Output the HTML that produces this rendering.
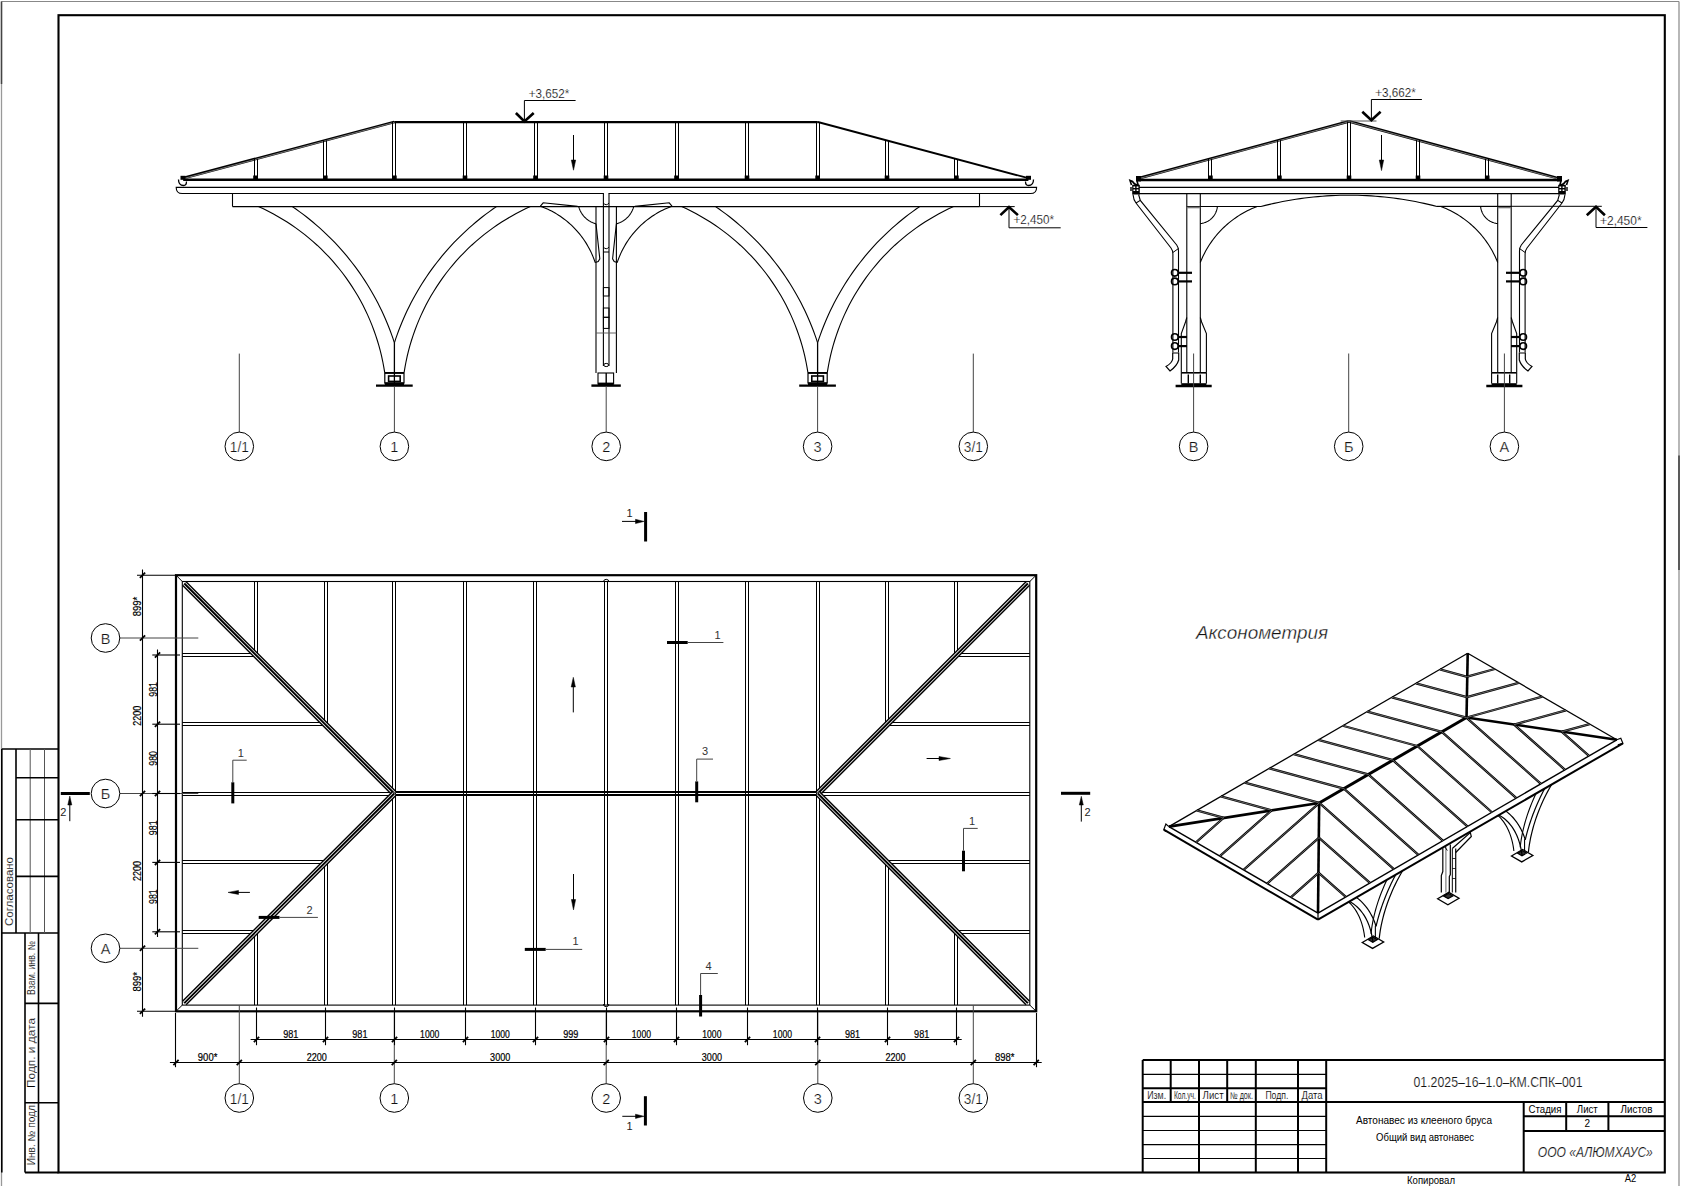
<!DOCTYPE html>
<html><head><meta charset="utf-8"><style>
html,body{margin:0;padding:0;background:#fff;width:1681px;height:1186px;overflow:hidden}
svg{display:block;font-family:"Liberation Sans",sans-serif}
</style></head><body>
<svg width="1681" height="1186" viewBox="0 0 1681 1186">
<line x1="1.5" y1="1.5" x2="1679" y2="1.5" stroke="#888" stroke-width="1.1"/>
<line x1="1.5" y1="1.5" x2="1.5" y2="1186" stroke="#999" stroke-width="1.3"/>
<line x1="1.5" y1="1.5" x2="1.5" y2="84" stroke="#444" stroke-width="1.5"/>
<line x1="1679" y1="1.5" x2="1679" y2="1186" stroke="#888" stroke-width="1.2"/>
<line x1="1679" y1="455.5" x2="1679" y2="570" stroke="#333" stroke-width="1.4"/>
<rect x="58.5" y="15.2" width="1606.3" height="1157.3" stroke="#000" stroke-width="2.1" fill="none"/>
<line x1="1.8" y1="749" x2="58.5" y2="749" stroke="#000" stroke-width="1.6"/>
<line x1="1.8" y1="933" x2="58.5" y2="933" stroke="#000" stroke-width="1.6"/>
<line x1="1.8" y1="749" x2="1.8" y2="1172.5" stroke="#000" stroke-width="1.6"/>
<line x1="16" y1="749" x2="16" y2="933" stroke="#000" stroke-width="1.6"/>
<line x1="30.2" y1="749" x2="30.2" y2="933" stroke="#555" stroke-width="1"/>
<line x1="44.5" y1="749" x2="44.5" y2="933" stroke="#555" stroke-width="1"/>
<line x1="16" y1="777.7" x2="58.5" y2="777.7" stroke="#000" stroke-width="1.6"/>
<line x1="16" y1="819.8" x2="58.5" y2="819.8" stroke="#000" stroke-width="1.6"/>
<line x1="16" y1="876.4" x2="58.5" y2="876.4" stroke="#000" stroke-width="1.6"/>
<line x1="25" y1="933" x2="25" y2="1172.5" stroke="#000" stroke-width="1.6"/>
<line x1="38.5" y1="933" x2="38.5" y2="1172.5" stroke="#000" stroke-width="1.6"/>
<line x1="25" y1="1003.4" x2="58.5" y2="1003.4" stroke="#000" stroke-width="1.6"/>
<line x1="25" y1="1102.7" x2="58.5" y2="1102.7" stroke="#000" stroke-width="1.6"/>
<line x1="25" y1="1172.5" x2="58.5" y2="1172.5" stroke="#000" stroke-width="2"/>
<text x="8.6" y="891.5" dominant-baseline="central" font-size="10.5" text-anchor="middle" fill="#000" textLength="69" lengthAdjust="spacingAndGlyphs" stroke="#fff" stroke-width="0.15" transform="rotate(-90 8.6 891.5)">Согласовано</text>
<text x="31.6" y="968" dominant-baseline="central" font-size="10" text-anchor="middle" fill="#000" textLength="54" lengthAdjust="spacingAndGlyphs" stroke="#fff" stroke-width="0.12" transform="rotate(-90 31.6 968)">Взам. инв. №</text>
<text x="31.6" y="1053" dominant-baseline="central" font-size="10" text-anchor="middle" fill="#000" textLength="70" lengthAdjust="spacingAndGlyphs" stroke="#fff" stroke-width="0.15" transform="rotate(-90 31.6 1053)">Подп. и дата</text>
<text x="31.6" y="1133.8" dominant-baseline="central" font-size="10" text-anchor="middle" fill="#000" textLength="63" lengthAdjust="spacingAndGlyphs" stroke="#fff" stroke-width="0.12" transform="rotate(-90 31.6 1133.8)">Инв. № подл.</text>
<line x1="1142.7" y1="1060" x2="1665" y2="1060" stroke="#000" stroke-width="2"/>
<line x1="1142.7" y1="1088.3" x2="1326.2" y2="1088.3" stroke="#000" stroke-width="2"/>
<line x1="1142.7" y1="1102.1" x2="1665" y2="1102.1" stroke="#000" stroke-width="2"/>
<line x1="1142.7" y1="1074.4" x2="1326.2" y2="1074.4" stroke="#000" stroke-width="1.1"/>
<line x1="1142.7" y1="1116.4" x2="1326.2" y2="1116.4" stroke="#000" stroke-width="1.1"/>
<line x1="1142.7" y1="1130.5" x2="1326.2" y2="1130.5" stroke="#000" stroke-width="1.1"/>
<line x1="1142.7" y1="1144.6" x2="1326.2" y2="1144.6" stroke="#000" stroke-width="1.1"/>
<line x1="1142.7" y1="1158.5" x2="1326.2" y2="1158.5" stroke="#000" stroke-width="1.1"/>
<line x1="1142.7" y1="1060" x2="1142.7" y2="1172.5" stroke="#000" stroke-width="2"/>
<line x1="1199" y1="1060" x2="1199" y2="1172.5" stroke="#000" stroke-width="2"/>
<line x1="1255.8" y1="1060" x2="1255.8" y2="1172.5" stroke="#000" stroke-width="2"/>
<line x1="1298" y1="1060" x2="1298" y2="1172.5" stroke="#000" stroke-width="2"/>
<line x1="1326.2" y1="1060" x2="1326.2" y2="1172.5" stroke="#000" stroke-width="2"/>
<line x1="1170.7" y1="1060" x2="1170.7" y2="1102.1" stroke="#000" stroke-width="2"/>
<line x1="1227.2" y1="1060" x2="1227.2" y2="1102.1" stroke="#000" stroke-width="2"/>
<line x1="1523.7" y1="1116.3" x2="1665" y2="1116.3" stroke="#000" stroke-width="2"/>
<line x1="1523.7" y1="1130.9" x2="1665" y2="1130.9" stroke="#000" stroke-width="2"/>
<line x1="1523.7" y1="1102.1" x2="1523.7" y2="1172.5" stroke="#000" stroke-width="2"/>
<line x1="1566.2" y1="1102.1" x2="1566.2" y2="1130.9" stroke="#000" stroke-width="2"/>
<line x1="1608.4" y1="1102.1" x2="1608.4" y2="1130.9" stroke="#000" stroke-width="2"/>
<text x="1156.7" y="1095.3" dominant-baseline="central" font-size="10" text-anchor="middle" fill="#000" textLength="19" lengthAdjust="spacingAndGlyphs" stroke="#fff" stroke-width="0.12">Изм.</text>
<text x="1184.9" y="1095.3" dominant-baseline="central" font-size="10" text-anchor="middle" fill="#000" textLength="22" lengthAdjust="spacingAndGlyphs" stroke="#fff" stroke-width="0.12">Кол.уч.</text>
<text x="1213.1" y="1095.3" dominant-baseline="central" font-size="10" text-anchor="middle" fill="#000" textLength="21" lengthAdjust="spacingAndGlyphs" stroke="#fff" stroke-width="0.12">Лист</text>
<text x="1241.5" y="1095.3" dominant-baseline="central" font-size="10" text-anchor="middle" fill="#000" textLength="23" lengthAdjust="spacingAndGlyphs" stroke="#fff" stroke-width="0.12">№ док.</text>
<text x="1276.9" y="1095.3" dominant-baseline="central" font-size="10" text-anchor="middle" fill="#000" textLength="23" lengthAdjust="spacingAndGlyphs" stroke="#fff" stroke-width="0.12">Подп.</text>
<text x="1312.1" y="1095.3" dominant-baseline="central" font-size="10" text-anchor="middle" fill="#000" textLength="21" lengthAdjust="spacingAndGlyphs" stroke="#fff" stroke-width="0.12">Дата</text>
<text x="1498" y="1081.5" dominant-baseline="central" font-size="15" text-anchor="middle" fill="#111" textLength="169" lengthAdjust="spacingAndGlyphs" stroke="#fff" stroke-width="0.18">01.2025–16–1.0–КМ.СПК–001</text>
<text x="1424" y="1119.8" dominant-baseline="central" font-size="10.5" text-anchor="middle" fill="#000" textLength="136" lengthAdjust="spacingAndGlyphs">Автонавес из клееного бруса</text>
<text x="1425" y="1137.2" dominant-baseline="central" font-size="10.5" text-anchor="middle" fill="#000" textLength="98" lengthAdjust="spacingAndGlyphs">Общий вид автонавес</text>
<text x="1545" y="1109.2" dominant-baseline="central" font-size="10" text-anchor="middle" fill="#000" textLength="33" lengthAdjust="spacingAndGlyphs">Стадия</text>
<text x="1587.3" y="1109.2" dominant-baseline="central" font-size="10" text-anchor="middle" fill="#000" textLength="21" lengthAdjust="spacingAndGlyphs">Лист</text>
<text x="1636.5" y="1109.2" dominant-baseline="central" font-size="10" text-anchor="middle" fill="#000" textLength="32" lengthAdjust="spacingAndGlyphs">Листов</text>
<text x="1587.3" y="1123.5" dominant-baseline="central" font-size="10" text-anchor="middle" fill="#000">2</text>
<text x="1595.3" y="1151.5" dominant-baseline="central" font-size="15" text-anchor="middle" fill="#111" textLength="115" lengthAdjust="spacingAndGlyphs" font-style="italic" stroke="#fff" stroke-width="0.18">ООО «АЛЮМХАУС»</text>
<text x="1431" y="1180" dominant-baseline="central" font-size="10.5" text-anchor="middle" fill="#000" textLength="48" lengthAdjust="spacingAndGlyphs">Копировал</text>
<text x="1630.5" y="1178.5" dominant-baseline="central" font-size="10" text-anchor="middle" fill="#000" textLength="11.5" lengthAdjust="spacingAndGlyphs">А2</text>
<line x1="183.2" y1="179.8" x2="1028.4" y2="179.8" stroke="#000" stroke-width="2.4"/>
<line x1="394.2" y1="122.2" x2="817.8" y2="122.2" stroke="#000" stroke-width="2.2"/>
<line x1="183.2" y1="178.2" x2="394.2" y2="122" stroke="#000" stroke-width="2.8"/>
<line x1="183.6" y1="178.6" x2="394.2" y2="122.4" stroke="#aaa" stroke-width="0.7"/>
<line x1="817.8" y1="122" x2="1028.4" y2="178.2" stroke="#000" stroke-width="1.9"/>
<line x1="254.5" y1="158.94" x2="254.5" y2="180" stroke="#000" stroke-width="1"/>
<line x1="257.5" y1="158.94" x2="257.5" y2="180" stroke="#000" stroke-width="1"/>
<rect x="253.2" y="175.5" width="4.6" height="5.5" fill="#000"/>
<line x1="323.5" y1="140.35" x2="323.5" y2="180" stroke="#000" stroke-width="1"/>
<line x1="326.5" y1="140.35" x2="326.5" y2="180" stroke="#000" stroke-width="1"/>
<rect x="323" y="175.5" width="4.6" height="5.5" fill="#000"/>
<line x1="392.5" y1="122" x2="392.5" y2="180" stroke="#000" stroke-width="1"/>
<line x1="395.5" y1="122" x2="395.5" y2="180" stroke="#000" stroke-width="1"/>
<rect x="392.1" y="175.5" width="4.6" height="5.5" fill="#000"/>
<line x1="463.5" y1="122" x2="463.5" y2="180" stroke="#000" stroke-width="1"/>
<line x1="466.5" y1="122" x2="466.5" y2="180" stroke="#000" stroke-width="1"/>
<rect x="462.7" y="175.5" width="4.6" height="5.5" fill="#000"/>
<line x1="534.5" y1="122" x2="534.5" y2="180" stroke="#000" stroke-width="1"/>
<line x1="537.5" y1="122" x2="537.5" y2="180" stroke="#000" stroke-width="1"/>
<rect x="533.2" y="175.5" width="4.6" height="5.5" fill="#000"/>
<line x1="604.5" y1="122" x2="604.5" y2="180" stroke="#000" stroke-width="1"/>
<line x1="607.5" y1="122" x2="607.5" y2="180" stroke="#000" stroke-width="1"/>
<rect x="603.7" y="175.5" width="4.6" height="5.5" fill="#000"/>
<line x1="675.5" y1="122" x2="675.5" y2="180" stroke="#000" stroke-width="1"/>
<line x1="678.5" y1="122" x2="678.5" y2="180" stroke="#000" stroke-width="1"/>
<rect x="674.2" y="175.5" width="4.6" height="5.5" fill="#000"/>
<line x1="745.5" y1="122" x2="745.5" y2="180" stroke="#000" stroke-width="1"/>
<line x1="748.5" y1="122" x2="748.5" y2="180" stroke="#000" stroke-width="1"/>
<rect x="744.7" y="175.5" width="4.6" height="5.5" fill="#000"/>
<line x1="816.5" y1="122" x2="816.5" y2="180" stroke="#000" stroke-width="1"/>
<line x1="819.5" y1="122" x2="819.5" y2="180" stroke="#000" stroke-width="1"/>
<rect x="815.3" y="175.5" width="4.6" height="5.5" fill="#000"/>
<line x1="885.5" y1="140.47" x2="885.5" y2="180" stroke="#000" stroke-width="1"/>
<line x1="888.5" y1="140.47" x2="888.5" y2="180" stroke="#000" stroke-width="1"/>
<rect x="884.7" y="175.5" width="4.6" height="5.5" fill="#000"/>
<line x1="954.5" y1="158.99" x2="954.5" y2="180" stroke="#000" stroke-width="1"/>
<line x1="957.5" y1="158.99" x2="957.5" y2="180" stroke="#000" stroke-width="1"/>
<rect x="954.1" y="175.5" width="4.6" height="5.5" fill="#000"/>
<path d="M176.2,187.4 L1036.6,187.4 Q1036.6,193.5 1030.6,193.5 L182.2,193.5 Q176.2,193.5 176.2,187.4 Z" stroke="#000" stroke-width="1.1" fill="none"/>
<path d="M178.5,179.5 Q178.5,185.5 183.5,185.5 Q186.5,185.5 186.5,181.5" stroke="#000" stroke-width="1.3" fill="none"/>
<path d="M1033.5,179.5 Q1033.5,185.5 1028.5,185.5 Q1025.5,185.5 1025.5,181.5" stroke="#000" stroke-width="1.3" fill="none"/>
<rect x="180.5" y="175.8" width="5" height="4" fill="#000"/>
<rect x="1026" y="175.8" width="5" height="4" fill="#000"/>
<rect x="603.9" y="192.6" width="4.6" height="1.9" fill="#fff"/>
<line x1="232.5" y1="193.5" x2="232.5" y2="206.6" stroke="#000" stroke-width="1.1"/>
<line x1="979.5" y1="193.5" x2="979.5" y2="206.6" stroke="#000" stroke-width="1.1"/>
<line x1="232.5" y1="206.6" x2="979.5" y2="206.6" stroke="#000" stroke-width="1.2"/>
<path d="M258.45,206.6 L263.38,208.87 L268.25,211.27 L273.06,213.78 L277.81,216.42 L282.49,219.17 L287.1,222.04 L291.63,225.02 L296.09,228.12 L300.47,231.33 L304.77,234.64 L308.98,238.06 L313.11,241.59 L317.15,245.22 L321.09,248.95 L324.94,252.77 L328.7,256.69 L332.35,260.71 L335.91,264.81 L339.36,269 L342.7,273.28 L345.94,277.64 L349.06,282.08 L352.08,286.59 L354.98,291.18 L357.76,295.84 L360.43,300.57 L362.98,305.36 L365.4,310.22 L367.71,315.13 L369.89,320.1 L371.94,325.13 L373.87,330.2 L375.68,335.32 L377.35,340.49 L378.89,345.69 L380.31,350.93 L381.59,356.21 L382.74,361.51 L383.75,366.84 L384.64,372.2" stroke="#000" stroke-width="1.1" fill="none"/>
<path d="M292.31,206.6 L295.88,209.06 L299.4,211.58 L302.89,214.16 L306.32,216.8 L309.72,219.5 L313.07,222.25 L316.38,225.05 L319.63,227.91 L322.84,230.82 L326,233.79 L329.11,236.81 L332.18,239.88 L335.18,242.99 L338.14,246.16 L341.05,249.38 L343.9,252.65 L346.69,255.96 L349.43,259.31 L352.12,262.72 L354.75,266.16 L357.32,269.65 L359.83,273.19 L362.28,276.76 L364.68,280.37 L367.01,284.02 L369.29,287.71 L371.5,291.44 L373.65,295.21 L375.73,299.01 L377.76,302.84 L379.72,306.7 L381.61,310.6 L383.44,314.53 L385.21,318.49 L386.91,322.48 L388.54,326.49 L390.11,330.53 L391.61,334.6 L393.04,338.69 L394.4,342.81" stroke="#000" stroke-width="1.1" fill="none"/>
<path d="M530.35,206.6 L525.42,208.87 L520.55,211.27 L515.74,213.78 L510.99,216.42 L506.31,219.17 L501.7,222.04 L497.17,225.02 L492.71,228.12 L488.33,231.33 L484.03,234.64 L479.82,238.06 L475.69,241.59 L471.65,245.22 L467.71,248.95 L463.86,252.77 L460.1,256.69 L456.45,260.71 L452.89,264.81 L449.44,269 L446.1,273.28 L442.86,277.64 L439.74,282.08 L436.72,286.59 L433.82,291.18 L431.04,295.84 L428.37,300.57 L425.82,305.36 L423.4,310.22 L421.09,315.13 L418.91,320.1 L416.86,325.13 L414.93,330.2 L413.12,335.32 L411.45,340.49 L409.91,345.69 L408.49,350.93 L407.21,356.21 L406.06,361.51 L405.05,366.84 L404.16,372.2" stroke="#000" stroke-width="1.1" fill="none"/>
<path d="M496.49,206.6 L492.92,209.06 L489.4,211.58 L485.91,214.16 L482.48,216.8 L479.08,219.5 L475.73,222.25 L472.42,225.05 L469.17,227.91 L465.96,230.82 L462.8,233.79 L459.69,236.81 L456.62,239.88 L453.62,242.99 L450.66,246.16 L447.75,249.38 L444.9,252.65 L442.11,255.96 L439.37,259.31 L436.68,262.72 L434.05,266.16 L431.48,269.65 L428.97,273.19 L426.52,276.76 L424.12,280.37 L421.79,284.02 L419.51,287.71 L417.3,291.44 L415.15,295.21 L413.07,299.01 L411.04,302.84 L409.08,306.7 L407.19,310.6 L405.36,314.53 L403.59,318.49 L401.89,322.48 L400.26,326.49 L398.69,330.53 L397.19,334.6 L395.76,338.69 L394.4,342.81" stroke="#000" stroke-width="1.1" fill="none"/>
<rect x="384.8" y="372.6" width="19.2" height="10.4" stroke="#000" stroke-width="1.2" fill="none"/>
<line x1="384.8" y1="373" x2="404" y2="373" stroke="#000" stroke-width="1.8"/>
<rect x="388.6" y="376" width="11.6" height="5.4" stroke="#000" stroke-width="1.6" fill="none"/>
<line x1="376" y1="385.6" x2="412.7" y2="385.6" stroke="#000" stroke-width="2.4"/>
<rect x="384.8" y="382.4" width="19.2" height="2.6" fill="#000"/>
<line x1="394.4" y1="342.81" x2="394.4" y2="386" stroke="#000" stroke-width="1.3"/>
<path d="M681.65,206.6 L686.58,208.87 L691.45,211.27 L696.26,213.78 L701.01,216.42 L705.69,219.17 L710.3,222.04 L714.83,225.02 L719.29,228.12 L723.67,231.33 L727.97,234.64 L732.18,238.06 L736.31,241.59 L740.35,245.22 L744.29,248.95 L748.14,252.77 L751.9,256.69 L755.55,260.71 L759.11,264.81 L762.56,269 L765.9,273.28 L769.14,277.64 L772.26,282.08 L775.28,286.59 L778.18,291.18 L780.96,295.84 L783.63,300.57 L786.18,305.36 L788.6,310.22 L790.91,315.13 L793.09,320.1 L795.14,325.13 L797.07,330.2 L798.88,335.32 L800.55,340.49 L802.09,345.69 L803.51,350.93 L804.79,356.21 L805.94,361.51 L806.95,366.84 L807.84,372.2" stroke="#000" stroke-width="1.1" fill="none"/>
<path d="M715.51,206.6 L719.08,209.06 L722.6,211.58 L726.09,214.16 L729.52,216.8 L732.92,219.5 L736.27,222.25 L739.58,225.05 L742.83,227.91 L746.04,230.82 L749.2,233.79 L752.31,236.81 L755.38,239.88 L758.38,242.99 L761.34,246.16 L764.25,249.38 L767.1,252.65 L769.89,255.96 L772.63,259.31 L775.32,262.72 L777.95,266.16 L780.52,269.65 L783.03,273.19 L785.48,276.76 L787.88,280.37 L790.21,284.02 L792.49,287.71 L794.7,291.44 L796.85,295.21 L798.93,299.01 L800.96,302.84 L802.92,306.7 L804.81,310.6 L806.64,314.53 L808.41,318.49 L810.11,322.48 L811.74,326.49 L813.31,330.53 L814.81,334.6 L816.24,338.69 L817.6,342.81" stroke="#000" stroke-width="1.1" fill="none"/>
<path d="M953.55,206.6 L948.62,208.87 L943.75,211.27 L938.94,213.78 L934.19,216.42 L929.51,219.17 L924.9,222.04 L920.37,225.02 L915.91,228.12 L911.53,231.33 L907.23,234.64 L903.02,238.06 L898.89,241.59 L894.85,245.22 L890.91,248.95 L887.06,252.77 L883.3,256.69 L879.65,260.71 L876.09,264.81 L872.64,269 L869.3,273.28 L866.06,277.64 L862.94,282.08 L859.92,286.59 L857.02,291.18 L854.24,295.84 L851.57,300.57 L849.02,305.36 L846.6,310.22 L844.29,315.13 L842.11,320.1 L840.06,325.13 L838.13,330.2 L836.32,335.32 L834.65,340.49 L833.11,345.69 L831.69,350.93 L830.41,356.21 L829.26,361.51 L828.25,366.84 L827.36,372.2" stroke="#000" stroke-width="1.1" fill="none"/>
<path d="M919.69,206.6 L916.12,209.06 L912.6,211.58 L909.11,214.16 L905.68,216.8 L902.28,219.5 L898.93,222.25 L895.62,225.05 L892.37,227.91 L889.16,230.82 L886,233.79 L882.89,236.81 L879.82,239.88 L876.82,242.99 L873.86,246.16 L870.95,249.38 L868.1,252.65 L865.31,255.96 L862.57,259.31 L859.88,262.72 L857.25,266.16 L854.68,269.65 L852.17,273.19 L849.72,276.76 L847.32,280.37 L844.99,284.02 L842.71,287.71 L840.5,291.44 L838.35,295.21 L836.27,299.01 L834.24,302.84 L832.28,306.7 L830.39,310.6 L828.56,314.53 L826.79,318.49 L825.09,322.48 L823.46,326.49 L821.89,330.53 L820.39,334.6 L818.96,338.69 L817.6,342.81" stroke="#000" stroke-width="1.1" fill="none"/>
<rect x="808" y="372.6" width="19.2" height="10.4" stroke="#000" stroke-width="1.2" fill="none"/>
<line x1="808" y1="373" x2="827.2" y2="373" stroke="#000" stroke-width="1.8"/>
<rect x="811.8" y="376" width="11.6" height="5.4" stroke="#000" stroke-width="1.6" fill="none"/>
<line x1="799.2" y1="385.6" x2="835.9" y2="385.6" stroke="#000" stroke-width="2.4"/>
<rect x="808" y="382.4" width="19.2" height="2.6" fill="#000"/>
<line x1="817.6" y1="342.81" x2="817.6" y2="386" stroke="#000" stroke-width="1.3"/>
<line x1="596" y1="206.6" x2="596" y2="373" stroke="#000" stroke-width="1.1"/>
<line x1="616.4" y1="206.6" x2="616.4" y2="373" stroke="#000" stroke-width="1.1"/>
<line x1="603.4" y1="193.5" x2="603.4" y2="366" stroke="#000" stroke-width="1.1"/>
<line x1="609" y1="193.5" x2="609" y2="366" stroke="#000" stroke-width="1.1"/>
<path d="M603.4,203 Q606.2,206.5 609,203" stroke="#000" stroke-width="1" fill="none"/>
<path d="M603.4,247 Q606.2,250.5 609,247" stroke="#000" stroke-width="1" fill="none"/>
<line x1="603.4" y1="252" x2="609" y2="252" stroke="#000" stroke-width="1"/>
<rect x="603.4" y="287.6" width="5.6" height="8.4" stroke="#000" stroke-width="1" fill="none"/>
<rect x="603.4" y="308" width="5.6" height="9.3" stroke="#000" stroke-width="1" fill="none"/>
<rect x="603.4" y="317.3" width="5.6" height="11.1" stroke="#000" stroke-width="1" fill="none"/>
<line x1="596" y1="333" x2="616.4" y2="333" stroke="#555" stroke-width="0.9"/>
<path d="M603.8,365 a2.4,1.6 0 1,0 4.8,0 a2.4,1.6 0 1,0 -4.8,0" stroke="#000" stroke-width="1" fill="none"/>
<rect x="598" y="373" width="15.6" height="11" stroke="#000" stroke-width="1.1" fill="none"/>
<line x1="606.2" y1="373" x2="606.2" y2="385" stroke="#000" stroke-width="1.4"/>
<line x1="591.4" y1="385.6" x2="620.8" y2="385.6" stroke="#000" stroke-width="2.4"/>
<rect x="598" y="382.6" width="15.6" height="2.6" fill="#000"/>
<path d="M540.4,206.2 L543.2,202.8 L577.6,206.4" stroke="#000" stroke-width="1.1" fill="none"/>
<path d="M540.4,206.2 L542.31,206.91 L544.2,207.67 L546.07,208.46 L547.92,209.3 L549.76,210.19 L551.57,211.11 L553.36,212.07 L555.13,213.08 L556.88,214.12 L558.6,215.2 L560.3,216.33 L561.97,217.49 L563.62,218.69 L565.23,219.92 L566.82,221.19 L568.38,222.5 L569.91,223.84 L571.41,225.22 L572.88,226.63 L574.31,228.07 L575.71,229.55 L577.08,231.06 L578.41,232.59 L579.71,234.16 L580.97,235.76 L582.2,237.38 L583.39,239.03 L584.54,240.71 L585.65,242.42 L586.72,244.15 L587.76,245.9 L588.75,247.68 L589.7,249.47 L590.62,251.29 L591.49,253.13 L592.31,254.99 L593.1,256.87 L593.84,258.76 L594.54,260.67 L595.2,262.6" stroke="#000" stroke-width="1.1" fill="none"/>
<path d="M578.7,206.6 L578.88,207.21 L579.07,207.82 L579.28,208.43 L579.5,209.02 L579.74,209.62 L579.99,210.2 L580.26,210.78 L580.55,211.35 L580.85,211.91 L581.16,212.47 L581.49,213.02 L581.83,213.56 L582.19,214.09 L582.56,214.61 L582.95,215.12 L583.34,215.62 L583.75,216.11 L584.17,216.58 L584.61,217.05 L585.06,217.51 L585.51,217.95 L585.98,218.38 L586.47,218.8 L586.96,219.21 L587.46,219.6 L587.97,219.99 L588.49,220.35 L589.03,220.71 L589.57,221.05 L590.12,221.37 L590.67,221.68 L591.24,221.98 L591.81,222.26 L592.39,222.53 L592.98,222.78 L593.57,223.01 L594.17,223.23 L594.78,223.44 L595.39,223.63 L596,223.8" stroke="#000" stroke-width="1.1" fill="none"/>
<path d="M596,223.8 L599.8,258.8 L598.2,261.6 L595.2,262.6" stroke="#000" stroke-width="1.1" fill="none"/>
<path d="M672,206.2 L669.2,202.8 L634.8,206.4" stroke="#000" stroke-width="1.1" fill="none"/>
<path d="M672,206.2 L670.09,206.91 L668.2,207.67 L666.33,208.46 L664.48,209.3 L662.64,210.19 L660.83,211.11 L659.04,212.07 L657.27,213.08 L655.52,214.12 L653.8,215.2 L652.1,216.33 L650.43,217.49 L648.78,218.69 L647.17,219.92 L645.58,221.19 L644.02,222.5 L642.49,223.84 L640.99,225.22 L639.52,226.63 L638.09,228.07 L636.69,229.55 L635.32,231.06 L633.99,232.59 L632.69,234.16 L631.43,235.76 L630.2,237.38 L629.01,239.03 L627.86,240.71 L626.75,242.42 L625.68,244.15 L624.64,245.9 L623.65,247.68 L622.7,249.47 L621.78,251.29 L620.91,253.13 L620.09,254.99 L619.3,256.87 L618.56,258.76 L617.86,260.67 L617.2,262.6" stroke="#000" stroke-width="1.1" fill="none"/>
<path d="M633.7,206.6 L633.52,207.21 L633.33,207.82 L633.12,208.43 L632.9,209.02 L632.66,209.62 L632.41,210.2 L632.14,210.78 L631.85,211.35 L631.55,211.91 L631.24,212.47 L630.91,213.02 L630.57,213.56 L630.21,214.09 L629.84,214.61 L629.45,215.12 L629.06,215.62 L628.65,216.11 L628.23,216.58 L627.79,217.05 L627.34,217.51 L626.89,217.95 L626.42,218.38 L625.93,218.8 L625.44,219.21 L624.94,219.6 L624.43,219.99 L623.91,220.35 L623.37,220.71 L622.83,221.05 L622.28,221.37 L621.73,221.68 L621.16,221.98 L620.59,222.26 L620.01,222.53 L619.42,222.78 L618.83,223.01 L618.23,223.23 L617.62,223.44 L617.01,223.63 L616.4,223.8" stroke="#000" stroke-width="1.1" fill="none"/>
<path d="M616.4,223.8 L612.6,258.8 L614.2,261.6 L617.2,262.6" stroke="#000" stroke-width="1.1" fill="none"/>
<line x1="239.3" y1="353.6" x2="239.3" y2="432.1" stroke="#444" stroke-width="1"/>
<line x1="394.4" y1="386" x2="394.4" y2="432.1" stroke="#444" stroke-width="1"/>
<line x1="606.2" y1="386" x2="606.2" y2="432.1" stroke="#444" stroke-width="1"/>
<line x1="817.6" y1="386" x2="817.6" y2="432.1" stroke="#444" stroke-width="1"/>
<line x1="973.3" y1="353.6" x2="973.3" y2="432.1" stroke="#444" stroke-width="1"/>
<circle cx="239.3" cy="446.4" r="14.3" stroke="#000" stroke-width="1" fill="none"/>
<text x="239.3" y="447" dominant-baseline="central" font-size="14.5" text-anchor="middle" fill="#111" textLength="19" lengthAdjust="spacingAndGlyphs" stroke="#fff" stroke-width="0.22">1/1</text>
<circle cx="394.4" cy="446.4" r="14.3" stroke="#000" stroke-width="1" fill="none"/>
<text x="394.4" y="447" dominant-baseline="central" font-size="14.5" text-anchor="middle" fill="#111" stroke="#fff" stroke-width="0.22">1</text>
<circle cx="606.2" cy="446.4" r="14.3" stroke="#000" stroke-width="1" fill="none"/>
<text x="606.2" y="447" dominant-baseline="central" font-size="14.5" text-anchor="middle" fill="#111" stroke="#fff" stroke-width="0.22">2</text>
<circle cx="817.6" cy="446.4" r="14.3" stroke="#000" stroke-width="1" fill="none"/>
<text x="817.6" y="447" dominant-baseline="central" font-size="14.5" text-anchor="middle" fill="#111" stroke="#fff" stroke-width="0.22">3</text>
<circle cx="973.3" cy="446.4" r="14.3" stroke="#000" stroke-width="1" fill="none"/>
<text x="973.3" y="447" dominant-baseline="central" font-size="14.5" text-anchor="middle" fill="#111" textLength="19" lengthAdjust="spacingAndGlyphs" stroke="#fff" stroke-width="0.22">3/1</text>
<line x1="524.4" y1="100.5" x2="575.6" y2="100.5" stroke="#000" stroke-width="1"/>
<line x1="524.4" y1="100.5" x2="524.4" y2="122" stroke="#000" stroke-width="1"/>
<path d="M515.9,113 L524.4,121.5 L533.7,113" stroke="#000" stroke-width="2.6" fill="none"/>
<text x="549" y="93.6" dominant-baseline="central" font-size="12" text-anchor="middle" fill="#000" textLength="40.5" lengthAdjust="spacingAndGlyphs" stroke="#fff" stroke-width="0.2">+3,652*</text>
<line x1="573.5" y1="135" x2="573.5" y2="162" stroke="#000" stroke-width="1"/>
<path d="M571.3,160 L573.5,170.2 L575.7,160 Z" stroke="#000" stroke-width="0.5" fill="#000"/>
<line x1="979.5" y1="206.6" x2="1014.7" y2="206.6" stroke="#000" stroke-width="1"/>
<line x1="1009" y1="206.6" x2="1009" y2="227.8" stroke="#000" stroke-width="1"/>
<line x1="1009" y1="227.8" x2="1060.7" y2="227.8" stroke="#000" stroke-width="1"/>
<path d="M1000.4,215.1 L1009,207 L1017.9,215.1" stroke="#000" stroke-width="2.6" fill="none"/>
<text x="1033.8" y="220.3" dominant-baseline="central" font-size="12" text-anchor="middle" fill="#000" textLength="40.5" lengthAdjust="spacingAndGlyphs" stroke="#fff" stroke-width="0.2">+2,450*</text>
<line x1="1138.3" y1="180" x2="1560.8" y2="180" stroke="#000" stroke-width="2.4"/>
<line x1="1138.3" y1="178.3" x2="1349" y2="121.3" stroke="#000" stroke-width="2.8"/>
<line x1="1138.7" y1="178.7" x2="1349" y2="121.7" stroke="#aaa" stroke-width="0.7"/>
<line x1="1349" y1="121.3" x2="1560.8" y2="179" stroke="#000" stroke-width="2.8"/>
<line x1="1349" y1="121.7" x2="1560.4" y2="179.4" stroke="#aaa" stroke-width="0.7"/>
<line x1="1208.5" y1="158.8" x2="1208.5" y2="180" stroke="#000" stroke-width="1"/>
<line x1="1211.5" y1="158.8" x2="1211.5" y2="180" stroke="#000" stroke-width="1"/>
<rect x="1208.1" y="175.5" width="4.6" height="5.5" fill="#000"/>
<line x1="1277.5" y1="140.13" x2="1277.5" y2="180" stroke="#000" stroke-width="1"/>
<line x1="1280.5" y1="140.13" x2="1280.5" y2="180" stroke="#000" stroke-width="1"/>
<rect x="1277.1" y="175.5" width="4.6" height="5.5" fill="#000"/>
<line x1="1347.5" y1="121.3" x2="1347.5" y2="180" stroke="#000" stroke-width="1"/>
<line x1="1350.5" y1="121.3" x2="1350.5" y2="180" stroke="#000" stroke-width="1"/>
<rect x="1346.7" y="175.5" width="4.6" height="5.5" fill="#000"/>
<line x1="1416.5" y1="140.1" x2="1416.5" y2="180" stroke="#000" stroke-width="1"/>
<line x1="1419.5" y1="140.1" x2="1419.5" y2="180" stroke="#000" stroke-width="1"/>
<rect x="1415.7" y="175.5" width="4.6" height="5.5" fill="#000"/>
<line x1="1485.5" y1="158.95" x2="1485.5" y2="180" stroke="#000" stroke-width="1"/>
<line x1="1488.5" y1="158.95" x2="1488.5" y2="180" stroke="#000" stroke-width="1"/>
<rect x="1484.9" y="175.5" width="4.6" height="5.5" fill="#000"/>
<rect x="1136" y="176" width="5" height="4" fill="#000"/>
<rect x="1557" y="176" width="5" height="4" fill="#000"/>
<line x1="1139" y1="187.4" x2="1559" y2="187.4" stroke="#000" stroke-width="1.1"/>
<line x1="1139" y1="193.6" x2="1559" y2="193.6" stroke="#000" stroke-width="1.1"/>
<rect x="1132.2" y="184.8" width="7.6" height="9.7" fill="#000"/>
<rect x="1133.4" y="186.4" width="1.8" height="1.6" fill="#fff"/>
<rect x="1136.6" y="186.4" width="1.8" height="1.6" fill="#fff"/>
<rect x="1133.4" y="189.4" width="1.8" height="1.6" fill="#fff"/>
<rect x="1136.6" y="189.4" width="1.8" height="1.6" fill="#fff"/>
<path d="M1131.5,185 L1130,180.5 L1132.5,181.5 Q1135,185.5 1138,184.5 L1137,181" stroke="#000" stroke-width="1.6" fill="none"/>
<rect x="1136" y="176.5" width="5" height="5" fill="#000"/>
<line x1="1131" y1="187" x2="1131" y2="191" stroke="#000" stroke-width="1.4"/>
<rect x="1558.2" y="184.8" width="7.6" height="9.7" fill="#000"/>
<rect x="1559.4" y="186.4" width="1.8" height="1.6" fill="#fff"/>
<rect x="1562.6" y="186.4" width="1.8" height="1.6" fill="#fff"/>
<rect x="1559.4" y="189.4" width="1.8" height="1.6" fill="#fff"/>
<rect x="1562.6" y="189.4" width="1.8" height="1.6" fill="#fff"/>
<path d="M1566.5,185 L1568,180.5 L1565.5,181.5 Q1563,185.5 1560,184.5 L1561,181" stroke="#000" stroke-width="1.6" fill="none"/>
<rect x="1557" y="176.5" width="5" height="5" fill="#000"/>
<line x1="1567" y1="187" x2="1567" y2="191" stroke="#000" stroke-width="1.4"/>
<line x1="1186.8" y1="193.6" x2="1186.8" y2="372.8" stroke="#000" stroke-width="1.1"/>
<line x1="1200.3" y1="193.6" x2="1200.3" y2="372.8" stroke="#000" stroke-width="1.1"/>
<path d="M1186.8,317.5 L1185.5,322 L1181.3,333.5 L1181.3,372.8" stroke="#000" stroke-width="1.1" fill="none"/>
<path d="M1200.3,317.5 L1201.6,322 L1206.4,333.5 L1206.4,372.8" stroke="#000" stroke-width="1.1" fill="none"/>
<line x1="1181.3" y1="372.8" x2="1206.4" y2="372.8" stroke="#000" stroke-width="1.6"/>
<line x1="1181.3" y1="372.8" x2="1181.3" y2="383.6" stroke="#000" stroke-width="1.1"/>
<line x1="1206.4" y1="372.8" x2="1206.4" y2="383.6" stroke="#000" stroke-width="1.1"/>
<line x1="1188.3" y1="374.5" x2="1188.3" y2="383.6" stroke="#000" stroke-width="1.4"/>
<line x1="1200.3" y1="374.5" x2="1200.3" y2="383.6" stroke="#000" stroke-width="1.4"/>
<line x1="1175.6" y1="386" x2="1211.7" y2="386" stroke="#000" stroke-width="2.4"/>
<rect x="1181.3" y="383.2" width="25.1" height="2.6" fill="#000"/>
<line x1="1186.8" y1="206.5" x2="1261" y2="206.5" stroke="#000" stroke-width="1.1"/>
<line x1="1186.8" y1="207.5" x2="1200.3" y2="207.5" stroke="#777" stroke-width="1.6"/>
<path d="M1257.2,206.5 L1255.28,207.24 L1253.38,208.02 L1251.49,208.83 L1249.62,209.69 L1247.77,210.59 L1245.94,211.52 L1244.13,212.5 L1242.34,213.51 L1240.57,214.56 L1238.83,215.64 L1237.11,216.77 L1235.41,217.93 L1233.73,219.12 L1232.08,220.35 L1230.46,221.61 L1228.87,222.91 L1227.3,224.24 L1225.76,225.6 L1224.25,227 L1222.77,228.42 L1221.32,229.88 L1219.9,231.37 L1218.51,232.89 L1217.16,234.43 L1215.84,236.01 L1214.55,237.61 L1213.29,239.24 L1212.07,240.89 L1210.89,242.57 L1209.74,244.28 L1208.62,246 L1207.55,247.76 L1206.51,249.53 L1205.5,251.32 L1204.54,253.14 L1203.61,254.98 L1202.72,256.83 L1201.88,258.7 L1201.07,260.59 L1200.3,262.5" stroke="#000" stroke-width="1.1" fill="none"/>
<path d="M1217.4,206.5 L1217.32,207.15 L1217.22,207.8 L1217.1,208.44 L1216.96,209.08 L1216.8,209.71 L1216.61,210.34 L1216.4,210.96 L1216.17,211.57 L1215.92,212.18 L1215.65,212.78 L1215.36,213.36 L1215.05,213.94 L1214.72,214.5 L1214.37,215.06 L1214.01,215.6 L1213.62,216.13 L1213.22,216.64 L1212.79,217.14 L1212.36,217.63 L1211.9,218.1 L1211.43,218.56 L1210.94,218.99 L1210.44,219.42 L1209.93,219.82 L1209.4,220.21 L1208.86,220.57 L1208.3,220.92 L1207.74,221.25 L1207.16,221.56 L1206.58,221.85 L1205.98,222.12 L1205.37,222.37 L1204.76,222.6 L1204.14,222.81 L1203.51,223 L1202.88,223.16 L1202.24,223.3 L1201.6,223.42 L1200.95,223.52 L1200.3,223.6" stroke="#000" stroke-width="1.1" fill="none"/>
<path d="M1133,194.5 Q1133.5,200 1136,203 L1171,248 Q1172.9,250.5 1172.9,254 L1172.9,352.4" stroke="#000" stroke-width="1.1" fill="none"/>
<path d="M1138.6,194.5 L1140.3,200.4 L1176.7,245 Q1178.5,247.5 1178.5,251 L1178.5,352.4" stroke="#000" stroke-width="1.1" fill="none"/>
<line x1="1136" y1="203" x2="1140.3" y2="200.4" stroke="#000" stroke-width="1.1"/>
<line x1="1172.9" y1="252.5" x2="1178.5" y2="248.5" stroke="#000" stroke-width="1"/>
<circle cx="1174.8" cy="272.8" r="3.3" stroke="#000" stroke-width="1.6" fill="none"/>
<line x1="1178" y1="272.8" x2="1192" y2="272.8" stroke="#000" stroke-width="2.2"/>
<circle cx="1174.8" cy="281.4" r="3.3" stroke="#000" stroke-width="1.6" fill="none"/>
<line x1="1178" y1="281.4" x2="1192" y2="281.4" stroke="#000" stroke-width="2.2"/>
<circle cx="1174.8" cy="337" r="3.3" stroke="#000" stroke-width="1.6" fill="none"/>
<line x1="1178" y1="337" x2="1187" y2="337" stroke="#000" stroke-width="2.2"/>
<circle cx="1174.8" cy="346.1" r="3.3" stroke="#000" stroke-width="1.6" fill="none"/>
<line x1="1178" y1="346.1" x2="1187" y2="346.1" stroke="#000" stroke-width="2.2"/>
<path d="M1172.7,353 L1172.7,359 Q1172,363 1166,366.5 L1170,371 Q1177,366 1178.7,360 L1178.7,353 Z" stroke="#000" stroke-width="1.2" fill="none"/>
<line x1="1511.2" y1="193.6" x2="1511.2" y2="372.8" stroke="#000" stroke-width="1.1"/>
<line x1="1497.7" y1="193.6" x2="1497.7" y2="372.8" stroke="#000" stroke-width="1.1"/>
<path d="M1511.2,317.5 L1512.5,322 L1516.7,333.5 L1516.7,372.8" stroke="#000" stroke-width="1.1" fill="none"/>
<path d="M1497.7,317.5 L1496.4,322 L1491.6,333.5 L1491.6,372.8" stroke="#000" stroke-width="1.1" fill="none"/>
<line x1="1516.7" y1="372.8" x2="1491.6" y2="372.8" stroke="#000" stroke-width="1.6"/>
<line x1="1516.7" y1="372.8" x2="1516.7" y2="383.6" stroke="#000" stroke-width="1.1"/>
<line x1="1491.6" y1="372.8" x2="1491.6" y2="383.6" stroke="#000" stroke-width="1.1"/>
<line x1="1509.7" y1="374.5" x2="1509.7" y2="383.6" stroke="#000" stroke-width="1.4"/>
<line x1="1497.7" y1="374.5" x2="1497.7" y2="383.6" stroke="#000" stroke-width="1.4"/>
<line x1="1522.4" y1="386" x2="1486.3" y2="386" stroke="#000" stroke-width="2.4"/>
<rect x="1491.6" y="383.2" width="25.1" height="2.6" fill="#000"/>
<line x1="1511.2" y1="206.5" x2="1437" y2="206.5" stroke="#000" stroke-width="1.1"/>
<line x1="1511.2" y1="207.5" x2="1497.7" y2="207.5" stroke="#777" stroke-width="1.6"/>
<path d="M1440.8,206.5 L1442.72,207.24 L1444.62,208.02 L1446.51,208.83 L1448.38,209.69 L1450.23,210.59 L1452.06,211.52 L1453.87,212.5 L1455.66,213.51 L1457.43,214.56 L1459.17,215.64 L1460.89,216.77 L1462.59,217.93 L1464.27,219.12 L1465.92,220.35 L1467.54,221.61 L1469.13,222.91 L1470.7,224.24 L1472.24,225.6 L1473.75,227 L1475.23,228.42 L1476.68,229.88 L1478.1,231.37 L1479.49,232.89 L1480.84,234.43 L1482.16,236.01 L1483.45,237.61 L1484.71,239.24 L1485.93,240.89 L1487.11,242.57 L1488.26,244.28 L1489.38,246 L1490.45,247.76 L1491.49,249.53 L1492.5,251.32 L1493.46,253.14 L1494.39,254.98 L1495.28,256.83 L1496.12,258.7 L1496.93,260.59 L1497.7,262.5" stroke="#000" stroke-width="1.1" fill="none"/>
<path d="M1480.6,206.5 L1480.68,207.15 L1480.78,207.8 L1480.9,208.44 L1481.04,209.08 L1481.2,209.71 L1481.39,210.34 L1481.6,210.96 L1481.83,211.57 L1482.08,212.18 L1482.35,212.78 L1482.64,213.36 L1482.95,213.94 L1483.28,214.5 L1483.63,215.06 L1483.99,215.6 L1484.38,216.13 L1484.78,216.64 L1485.21,217.14 L1485.64,217.63 L1486.1,218.1 L1486.57,218.56 L1487.06,218.99 L1487.56,219.42 L1488.07,219.82 L1488.6,220.21 L1489.14,220.57 L1489.7,220.92 L1490.26,221.25 L1490.84,221.56 L1491.42,221.85 L1492.02,222.12 L1492.63,222.37 L1493.24,222.6 L1493.86,222.81 L1494.49,223 L1495.12,223.16 L1495.76,223.3 L1496.4,223.42 L1497.05,223.52 L1497.7,223.6" stroke="#000" stroke-width="1.1" fill="none"/>
<path d="M1565,194.5 Q1564.5,200 1562,203 L1527,248 Q1525.1,250.5 1525.1,254 L1525.1,352.4" stroke="#000" stroke-width="1.1" fill="none"/>
<path d="M1559.4,194.5 L1557.7,200.4 L1521.3,245 Q1519.5,247.5 1519.5,251 L1519.5,352.4" stroke="#000" stroke-width="1.1" fill="none"/>
<line x1="1562" y1="203" x2="1557.7" y2="200.4" stroke="#000" stroke-width="1.1"/>
<line x1="1525.1" y1="252.5" x2="1519.5" y2="248.5" stroke="#000" stroke-width="1"/>
<circle cx="1523.2" cy="272.8" r="3.3" stroke="#000" stroke-width="1.6" fill="none"/>
<line x1="1520" y1="272.8" x2="1506" y2="272.8" stroke="#000" stroke-width="2.2"/>
<circle cx="1523.2" cy="281.4" r="3.3" stroke="#000" stroke-width="1.6" fill="none"/>
<line x1="1520" y1="281.4" x2="1506" y2="281.4" stroke="#000" stroke-width="2.2"/>
<circle cx="1523.2" cy="337" r="3.3" stroke="#000" stroke-width="1.6" fill="none"/>
<line x1="1520" y1="337" x2="1511" y2="337" stroke="#000" stroke-width="2.2"/>
<circle cx="1523.2" cy="346.1" r="3.3" stroke="#000" stroke-width="1.6" fill="none"/>
<line x1="1520" y1="346.1" x2="1511" y2="346.1" stroke="#000" stroke-width="2.2"/>
<path d="M1525.3,353 L1525.3,359 Q1526,363 1532,366.5 L1528,371 Q1521,366 1519.3,360 L1519.3,353 Z" stroke="#000" stroke-width="1.2" fill="none"/>
<path d="M1261,206.5 L1265.31,205.4 L1269.64,204.36 L1273.97,203.38 L1278.32,202.45 L1282.68,201.57 L1287.06,200.75 L1291.44,199.99 L1295.83,199.28 L1300.23,198.63 L1304.64,198.04 L1309.05,197.5 L1313.48,197.02 L1317.9,196.59 L1322.34,196.22 L1326.77,195.91 L1331.21,195.65 L1335.66,195.46 L1340.1,195.31 L1344.55,195.23 L1349,195.2 L1353.45,195.23 L1357.9,195.31 L1362.34,195.46 L1366.79,195.65 L1371.23,195.91 L1375.66,196.22 L1380.1,196.59 L1384.52,197.02 L1388.95,197.5 L1393.36,198.04 L1397.77,198.63 L1402.17,199.28 L1406.56,199.99 L1410.94,200.75 L1415.32,201.57 L1419.68,202.45 L1424.03,203.38 L1428.36,204.36 L1432.69,205.4 L1437,206.5" stroke="#000" stroke-width="1.1" fill="none"/>
<line x1="1193.6" y1="353.5" x2="1193.6" y2="432.1" stroke="#444" stroke-width="1"/>
<circle cx="1193.6" cy="446.4" r="14.3" stroke="#000" stroke-width="1" fill="none"/>
<text x="1193.6" y="447" dominant-baseline="central" font-size="14.5" text-anchor="middle" fill="#111" stroke="#fff" stroke-width="0.22">В</text>
<line x1="1348.7" y1="353.5" x2="1348.7" y2="432.1" stroke="#444" stroke-width="1"/>
<circle cx="1348.7" cy="446.4" r="14.3" stroke="#000" stroke-width="1" fill="none"/>
<text x="1348.7" y="447" dominant-baseline="central" font-size="14.5" text-anchor="middle" fill="#111" stroke="#fff" stroke-width="0.22">Б</text>
<line x1="1504.4" y1="353.5" x2="1504.4" y2="432.1" stroke="#444" stroke-width="1"/>
<circle cx="1504.4" cy="446.4" r="14.3" stroke="#000" stroke-width="1" fill="none"/>
<text x="1504.4" y="447" dominant-baseline="central" font-size="14.5" text-anchor="middle" fill="#111" stroke="#fff" stroke-width="0.22">А</text>
<line x1="1340.7" y1="121" x2="1376.5" y2="121" stroke="#555" stroke-width="1"/>
<line x1="1371.4" y1="99.5" x2="1421.9" y2="99.5" stroke="#000" stroke-width="1"/>
<line x1="1371.4" y1="99.5" x2="1371.4" y2="120.5" stroke="#000" stroke-width="1"/>
<path d="M1362.3,111.8 L1371.4,120.3 L1380.6,111.8" stroke="#000" stroke-width="2.6" fill="none"/>
<text x="1395.5" y="93.4" dominant-baseline="central" font-size="12" text-anchor="middle" fill="#000" textLength="40.5" lengthAdjust="spacingAndGlyphs" stroke="#fff" stroke-width="0.2">+3,662*</text>
<line x1="1381.5" y1="135" x2="1381.5" y2="162" stroke="#000" stroke-width="1"/>
<path d="M1379.3,160 L1381.5,170.6 L1383.7,160 Z" stroke="#000" stroke-width="0.5" fill="#000"/>
<line x1="1437" y1="206.3" x2="1601.8" y2="206.3" stroke="#000" stroke-width="1"/>
<line x1="1596" y1="206.3" x2="1596" y2="227.5" stroke="#000" stroke-width="1"/>
<line x1="1596" y1="227.5" x2="1647.4" y2="227.5" stroke="#000" stroke-width="1"/>
<path d="M1586.8,215.3 L1596,206.8 L1604.9,215.3" stroke="#000" stroke-width="2.6" fill="none"/>
<text x="1620.8" y="220.8" dominant-baseline="central" font-size="12" text-anchor="middle" fill="#000" textLength="41.5" lengthAdjust="spacingAndGlyphs" stroke="#fff" stroke-width="0.2">+2,450*</text>
<rect x="176" y="575.2" width="860.2" height="436.1" stroke="#000" stroke-width="2.2" fill="none"/>
<rect x="182.3" y="581.5" width="847.5" height="423.6" stroke="#000" stroke-width="1.1" fill="none"/>
<line x1="176" y1="575.2" x2="182.3" y2="581.5" stroke="#000" stroke-width="1"/>
<line x1="1036.2" y1="575.2" x2="1029.8" y2="581.5" stroke="#000" stroke-width="1"/>
<line x1="176" y1="1011.3" x2="182.3" y2="1005.1" stroke="#000" stroke-width="1"/>
<line x1="1036.2" y1="1011.3" x2="1029.8" y2="1005.1" stroke="#000" stroke-width="1"/>
<line x1="254.5" y1="581.5" x2="254.5" y2="655.2" stroke="#000" stroke-width="1"/>
<line x1="257.5" y1="581.5" x2="257.5" y2="655.2" stroke="#000" stroke-width="1"/>
<line x1="254.5" y1="931.4" x2="254.5" y2="1005.1" stroke="#000" stroke-width="1"/>
<line x1="257.5" y1="931.4" x2="257.5" y2="1005.1" stroke="#000" stroke-width="1"/>
<line x1="324.5" y1="581.5" x2="324.5" y2="724.7" stroke="#000" stroke-width="1"/>
<line x1="327.5" y1="581.5" x2="327.5" y2="724.7" stroke="#000" stroke-width="1"/>
<line x1="324.5" y1="861.9" x2="324.5" y2="1005.1" stroke="#000" stroke-width="1"/>
<line x1="327.5" y1="861.9" x2="327.5" y2="1005.1" stroke="#000" stroke-width="1"/>
<line x1="392.5" y1="581.5" x2="392.5" y2="793.5" stroke="#000" stroke-width="1"/>
<line x1="395.5" y1="581.5" x2="395.5" y2="793.5" stroke="#000" stroke-width="1"/>
<line x1="392.5" y1="793.1" x2="392.5" y2="1005.1" stroke="#000" stroke-width="1"/>
<line x1="395.5" y1="793.1" x2="395.5" y2="1005.1" stroke="#000" stroke-width="1"/>
<line x1="463.5" y1="581.5" x2="463.5" y2="793.5" stroke="#000" stroke-width="1"/>
<line x1="466.5" y1="581.5" x2="466.5" y2="793.5" stroke="#000" stroke-width="1"/>
<line x1="463.5" y1="793.1" x2="463.5" y2="1005.1" stroke="#000" stroke-width="1"/>
<line x1="466.5" y1="793.1" x2="466.5" y2="1005.1" stroke="#000" stroke-width="1"/>
<line x1="533.5" y1="581.5" x2="533.5" y2="793.5" stroke="#000" stroke-width="1"/>
<line x1="536.5" y1="581.5" x2="536.5" y2="793.5" stroke="#000" stroke-width="1"/>
<line x1="533.5" y1="793.1" x2="533.5" y2="1005.1" stroke="#000" stroke-width="1"/>
<line x1="536.5" y1="793.1" x2="536.5" y2="1005.1" stroke="#000" stroke-width="1"/>
<line x1="604.5" y1="581.5" x2="604.5" y2="793.5" stroke="#000" stroke-width="1"/>
<line x1="607.5" y1="581.5" x2="607.5" y2="793.5" stroke="#000" stroke-width="1"/>
<line x1="604.5" y1="793.1" x2="604.5" y2="1005.1" stroke="#000" stroke-width="1"/>
<line x1="607.5" y1="793.1" x2="607.5" y2="1005.1" stroke="#000" stroke-width="1"/>
<line x1="675.5" y1="581.5" x2="675.5" y2="793.5" stroke="#000" stroke-width="1"/>
<line x1="678.5" y1="581.5" x2="678.5" y2="793.5" stroke="#000" stroke-width="1"/>
<line x1="675.5" y1="793.1" x2="675.5" y2="1005.1" stroke="#000" stroke-width="1"/>
<line x1="678.5" y1="793.1" x2="678.5" y2="1005.1" stroke="#000" stroke-width="1"/>
<line x1="745.5" y1="581.5" x2="745.5" y2="793.5" stroke="#000" stroke-width="1"/>
<line x1="748.5" y1="581.5" x2="748.5" y2="793.5" stroke="#000" stroke-width="1"/>
<line x1="745.5" y1="793.1" x2="745.5" y2="1005.1" stroke="#000" stroke-width="1"/>
<line x1="748.5" y1="793.1" x2="748.5" y2="1005.1" stroke="#000" stroke-width="1"/>
<line x1="816.5" y1="581.5" x2="816.5" y2="793.5" stroke="#000" stroke-width="1"/>
<line x1="819.5" y1="581.5" x2="819.5" y2="793.5" stroke="#000" stroke-width="1"/>
<line x1="816.5" y1="793.1" x2="816.5" y2="1005.1" stroke="#000" stroke-width="1"/>
<line x1="819.5" y1="793.1" x2="819.5" y2="1005.1" stroke="#000" stroke-width="1"/>
<line x1="885.5" y1="581.5" x2="885.5" y2="724.1" stroke="#000" stroke-width="1"/>
<line x1="888.5" y1="581.5" x2="888.5" y2="724.1" stroke="#000" stroke-width="1"/>
<line x1="885.5" y1="862.5" x2="885.5" y2="1005.1" stroke="#000" stroke-width="1"/>
<line x1="888.5" y1="862.5" x2="888.5" y2="1005.1" stroke="#000" stroke-width="1"/>
<line x1="954.5" y1="581.5" x2="954.5" y2="655.1" stroke="#000" stroke-width="1"/>
<line x1="957.5" y1="581.5" x2="957.5" y2="655.1" stroke="#000" stroke-width="1"/>
<line x1="954.5" y1="931.5" x2="954.5" y2="1005.1" stroke="#000" stroke-width="1"/>
<line x1="957.5" y1="931.5" x2="957.5" y2="1005.1" stroke="#000" stroke-width="1"/>
<line x1="182.3" y1="653.5" x2="255.8" y2="653.5" stroke="#000" stroke-width="1"/>
<line x1="182.3" y1="656.5" x2="255.8" y2="656.5" stroke="#000" stroke-width="1"/>
<line x1="956.3" y1="653.5" x2="1029.8" y2="653.5" stroke="#000" stroke-width="1"/>
<line x1="956.3" y1="656.5" x2="1029.8" y2="656.5" stroke="#000" stroke-width="1"/>
<line x1="182.3" y1="722.5" x2="325" y2="722.5" stroke="#000" stroke-width="1"/>
<line x1="182.3" y1="725.5" x2="325" y2="725.5" stroke="#000" stroke-width="1"/>
<line x1="887.1" y1="722.5" x2="1029.8" y2="722.5" stroke="#000" stroke-width="1"/>
<line x1="887.1" y1="725.5" x2="1029.8" y2="725.5" stroke="#000" stroke-width="1"/>
<line x1="182.3" y1="792.5" x2="393.9" y2="792.5" stroke="#000" stroke-width="1"/>
<line x1="182.3" y1="795.5" x2="393.9" y2="795.5" stroke="#000" stroke-width="1"/>
<line x1="818.2" y1="792.5" x2="1029.8" y2="792.5" stroke="#000" stroke-width="1"/>
<line x1="818.2" y1="795.5" x2="1029.8" y2="795.5" stroke="#000" stroke-width="1"/>
<line x1="182.3" y1="860.5" x2="325" y2="860.5" stroke="#000" stroke-width="1"/>
<line x1="182.3" y1="863.5" x2="325" y2="863.5" stroke="#000" stroke-width="1"/>
<line x1="887.1" y1="860.5" x2="1029.8" y2="860.5" stroke="#000" stroke-width="1"/>
<line x1="887.1" y1="863.5" x2="1029.8" y2="863.5" stroke="#000" stroke-width="1"/>
<line x1="182.3" y1="930.5" x2="255.6" y2="930.5" stroke="#000" stroke-width="1"/>
<line x1="182.3" y1="933.5" x2="255.6" y2="933.5" stroke="#000" stroke-width="1"/>
<line x1="956.5" y1="930.5" x2="1029.8" y2="930.5" stroke="#000" stroke-width="1"/>
<line x1="956.5" y1="933.5" x2="1029.8" y2="933.5" stroke="#000" stroke-width="1"/>
<line x1="394.3" y1="792" x2="817.8" y2="792" stroke="#000" stroke-width="2"/>
<line x1="394.3" y1="795" x2="817.8" y2="795" stroke="#000" stroke-width="2"/>
<line x1="184.3" y1="583.5" x2="394.3" y2="793.5" stroke="#000" stroke-width="6.4"/>
<line x1="184.3" y1="583.5" x2="394.3" y2="793.5" stroke="#fff" stroke-width="3.5"/>
<line x1="184.3" y1="583.5" x2="394.3" y2="793.5" stroke="#000" stroke-width="1.9"/>
<line x1="184.3" y1="1003.1" x2="394.3" y2="793.5" stroke="#000" stroke-width="6.4"/>
<line x1="184.3" y1="1003.1" x2="394.3" y2="793.5" stroke="#fff" stroke-width="3.5"/>
<line x1="184.3" y1="1003.1" x2="394.3" y2="793.5" stroke="#000" stroke-width="1.9"/>
<line x1="1027.8" y1="583.5" x2="817.8" y2="793.5" stroke="#000" stroke-width="6.4"/>
<line x1="1027.8" y1="583.5" x2="817.8" y2="793.5" stroke="#fff" stroke-width="3.5"/>
<line x1="1027.8" y1="583.5" x2="817.8" y2="793.5" stroke="#000" stroke-width="1.9"/>
<line x1="1027.8" y1="1003.1" x2="817.8" y2="793.5" stroke="#000" stroke-width="6.4"/>
<line x1="1027.8" y1="1003.1" x2="817.8" y2="793.5" stroke="#fff" stroke-width="3.5"/>
<line x1="1027.8" y1="1003.1" x2="817.8" y2="793.5" stroke="#000" stroke-width="1.9"/>
<path d="M603.5,582 a2.7,2.7 0 0,1 5.4,0" stroke="#000" stroke-width="1" fill="none"/>
<path d="M603.5,1004 a2.7,2.7 0 0,0 5.4,0" stroke="#000" stroke-width="1" fill="none"/>
<line x1="119.9" y1="638" x2="198.3" y2="638" stroke="#444" stroke-width="1"/>
<circle cx="105.5" cy="638" r="14.3" stroke="#000" stroke-width="1" fill="none"/>
<text x="105.5" y="638.6" dominant-baseline="central" font-size="14.5" text-anchor="middle" fill="#111" stroke="#fff" stroke-width="0.22">В</text>
<line x1="119.9" y1="793.5" x2="198.3" y2="793.5" stroke="#444" stroke-width="1"/>
<circle cx="105.5" cy="793.5" r="14.3" stroke="#000" stroke-width="1" fill="none"/>
<text x="105.5" y="794.1" dominant-baseline="central" font-size="14.5" text-anchor="middle" fill="#111" stroke="#fff" stroke-width="0.22">Б</text>
<line x1="119.9" y1="948.3" x2="198.3" y2="948.3" stroke="#444" stroke-width="1"/>
<circle cx="105.5" cy="948.3" r="14.3" stroke="#000" stroke-width="1" fill="none"/>
<text x="105.5" y="948.9" dominant-baseline="central" font-size="14.5" text-anchor="middle" fill="#111" stroke="#fff" stroke-width="0.22">А</text>
<line x1="239.3" y1="1005.5" x2="239.3" y2="1083.6" stroke="#444" stroke-width="1"/>
<circle cx="239.3" cy="1098" r="14.3" stroke="#000" stroke-width="1" fill="none"/>
<text x="239.3" y="1098.6" dominant-baseline="central" font-size="14.5" text-anchor="middle" fill="#111" textLength="19" lengthAdjust="spacingAndGlyphs" stroke="#fff" stroke-width="0.22">1/1</text>
<line x1="394.3" y1="1011.3" x2="394.3" y2="1083.6" stroke="#444" stroke-width="1"/>
<circle cx="394.3" cy="1098" r="14.3" stroke="#000" stroke-width="1" fill="none"/>
<text x="394.3" y="1098.6" dominant-baseline="central" font-size="14.5" text-anchor="middle" fill="#111" stroke="#fff" stroke-width="0.22">1</text>
<line x1="606.2" y1="1011.3" x2="606.2" y2="1083.6" stroke="#444" stroke-width="1"/>
<circle cx="606.2" cy="1098" r="14.3" stroke="#000" stroke-width="1" fill="none"/>
<text x="606.2" y="1098.6" dominant-baseline="central" font-size="14.5" text-anchor="middle" fill="#111" stroke="#fff" stroke-width="0.22">2</text>
<line x1="817.8" y1="1011.3" x2="817.8" y2="1083.6" stroke="#444" stroke-width="1"/>
<circle cx="817.8" cy="1098" r="14.3" stroke="#000" stroke-width="1" fill="none"/>
<text x="817.8" y="1098.6" dominant-baseline="central" font-size="14.5" text-anchor="middle" fill="#111" stroke="#fff" stroke-width="0.22">3</text>
<line x1="973.3" y1="1005.5" x2="973.3" y2="1083.6" stroke="#444" stroke-width="1"/>
<circle cx="973.3" cy="1098" r="14.3" stroke="#000" stroke-width="1" fill="none"/>
<text x="973.3" y="1098.6" dominant-baseline="central" font-size="14.5" text-anchor="middle" fill="#111" textLength="19" lengthAdjust="spacingAndGlyphs" stroke="#fff" stroke-width="0.22">3/1</text>
<line x1="142.5" y1="569.5" x2="142.5" y2="1016.7" stroke="#000" stroke-width="1.1"/>
<line x1="137" y1="575.2" x2="176" y2="575.2" stroke="#000" stroke-width="1.1"/>
<line x1="137" y1="1011.3" x2="176" y2="1011.3" stroke="#000" stroke-width="1.1"/>
<line x1="139.9" y1="577.8" x2="145.1" y2="572.6" stroke="#000" stroke-width="1.8"/>
<line x1="139.9" y1="640.6" x2="145.1" y2="635.4" stroke="#000" stroke-width="1.8"/>
<line x1="139.9" y1="796.1" x2="145.1" y2="790.9" stroke="#000" stroke-width="1.8"/>
<line x1="139.9" y1="950.9" x2="145.1" y2="945.7" stroke="#000" stroke-width="1.8"/>
<line x1="139.9" y1="1013.9" x2="145.1" y2="1008.7" stroke="#000" stroke-width="1.8"/>
<text x="137.3" y="606.6" dominant-baseline="central" font-size="10.3" text-anchor="middle" fill="#000" textLength="19.5" lengthAdjust="spacingAndGlyphs" stroke="#000" stroke-width="0.2" transform="rotate(-90 137.3 606.6)">899*</text>
<text x="137.3" y="715.7" dominant-baseline="central" font-size="10.3" text-anchor="middle" fill="#000" textLength="20" lengthAdjust="spacingAndGlyphs" stroke="#000" stroke-width="0.2" transform="rotate(-90 137.3 715.7)">2200</text>
<text x="137.3" y="871" dominant-baseline="central" font-size="10.3" text-anchor="middle" fill="#000" textLength="20" lengthAdjust="spacingAndGlyphs" stroke="#000" stroke-width="0.2" transform="rotate(-90 137.3 871)">2200</text>
<text x="137.3" y="981.7" dominant-baseline="central" font-size="10.3" text-anchor="middle" fill="#000" textLength="19.5" lengthAdjust="spacingAndGlyphs" stroke="#000" stroke-width="0.2" transform="rotate(-90 137.3 981.7)">899*</text>
<line x1="157.5" y1="649.4" x2="157.5" y2="937" stroke="#000" stroke-width="1.1"/>
<line x1="152.3" y1="655" x2="180" y2="655" stroke="#000" stroke-width="1.1"/>
<line x1="154.9" y1="657.6" x2="160.1" y2="652.4" stroke="#000" stroke-width="1.8"/>
<line x1="152.3" y1="724.2" x2="180" y2="724.2" stroke="#000" stroke-width="1.1"/>
<line x1="154.9" y1="726.8" x2="160.1" y2="721.6" stroke="#000" stroke-width="1.8"/>
<line x1="152.3" y1="793.5" x2="180" y2="793.5" stroke="#000" stroke-width="1.1"/>
<line x1="154.9" y1="796.1" x2="160.1" y2="790.9" stroke="#000" stroke-width="1.8"/>
<line x1="152.3" y1="862.4" x2="180" y2="862.4" stroke="#000" stroke-width="1.1"/>
<line x1="154.9" y1="865" x2="160.1" y2="859.8" stroke="#000" stroke-width="1.8"/>
<line x1="152.3" y1="931.8" x2="180" y2="931.8" stroke="#000" stroke-width="1.1"/>
<line x1="154.9" y1="934.4" x2="160.1" y2="929.2" stroke="#000" stroke-width="1.8"/>
<text x="153.7" y="689.4" dominant-baseline="central" font-size="10.3" text-anchor="middle" fill="#000" textLength="14.7" lengthAdjust="spacingAndGlyphs" stroke="#000" stroke-width="0.2" transform="rotate(-90 153.7 689.4)">981</text>
<text x="153.7" y="758.4" dominant-baseline="central" font-size="10.3" text-anchor="middle" fill="#000" textLength="14.7" lengthAdjust="spacingAndGlyphs" stroke="#000" stroke-width="0.2" transform="rotate(-90 153.7 758.4)">980</text>
<text x="153.7" y="827.8" dominant-baseline="central" font-size="10.3" text-anchor="middle" fill="#000" textLength="14.7" lengthAdjust="spacingAndGlyphs" stroke="#000" stroke-width="0.2" transform="rotate(-90 153.7 827.8)">981</text>
<text x="153.7" y="896.6" dominant-baseline="central" font-size="10.3" text-anchor="middle" fill="#000" textLength="14.7" lengthAdjust="spacingAndGlyphs" stroke="#000" stroke-width="0.2" transform="rotate(-90 153.7 896.6)">981</text>
<line x1="250.6" y1="1039.5" x2="961.7" y2="1039.5" stroke="#000" stroke-width="1.1"/>
<line x1="256.5" y1="1007.5" x2="256.5" y2="1045.2" stroke="#000" stroke-width="1.1"/>
<line x1="253.9" y1="1042.1" x2="259.1" y2="1036.9" stroke="#000" stroke-width="1.8"/>
<line x1="325.5" y1="1007.5" x2="325.5" y2="1045.2" stroke="#000" stroke-width="1.1"/>
<line x1="322.9" y1="1042.1" x2="328.1" y2="1036.9" stroke="#000" stroke-width="1.8"/>
<line x1="394.5" y1="1007.5" x2="394.5" y2="1045.2" stroke="#000" stroke-width="1.1"/>
<line x1="391.9" y1="1042.1" x2="397.1" y2="1036.9" stroke="#000" stroke-width="1.8"/>
<line x1="465.5" y1="1007.5" x2="465.5" y2="1045.2" stroke="#000" stroke-width="1.1"/>
<line x1="462.9" y1="1042.1" x2="468.1" y2="1036.9" stroke="#000" stroke-width="1.8"/>
<line x1="535.5" y1="1007.5" x2="535.5" y2="1045.2" stroke="#000" stroke-width="1.1"/>
<line x1="532.9" y1="1042.1" x2="538.1" y2="1036.9" stroke="#000" stroke-width="1.8"/>
<line x1="606.5" y1="1007.5" x2="606.5" y2="1045.2" stroke="#000" stroke-width="1.1"/>
<line x1="603.9" y1="1042.1" x2="609.1" y2="1036.9" stroke="#000" stroke-width="1.8"/>
<line x1="676.5" y1="1007.5" x2="676.5" y2="1045.2" stroke="#000" stroke-width="1.1"/>
<line x1="673.9" y1="1042.1" x2="679.1" y2="1036.9" stroke="#000" stroke-width="1.8"/>
<line x1="747.5" y1="1007.5" x2="747.5" y2="1045.2" stroke="#000" stroke-width="1.1"/>
<line x1="744.9" y1="1042.1" x2="750.1" y2="1036.9" stroke="#000" stroke-width="1.8"/>
<line x1="817.5" y1="1007.5" x2="817.5" y2="1045.2" stroke="#000" stroke-width="1.1"/>
<line x1="814.9" y1="1042.1" x2="820.1" y2="1036.9" stroke="#000" stroke-width="1.8"/>
<line x1="887.5" y1="1007.5" x2="887.5" y2="1045.2" stroke="#000" stroke-width="1.1"/>
<line x1="884.9" y1="1042.1" x2="890.1" y2="1036.9" stroke="#000" stroke-width="1.8"/>
<line x1="956.5" y1="1007.5" x2="956.5" y2="1045.2" stroke="#000" stroke-width="1.1"/>
<line x1="953.9" y1="1042.1" x2="959.1" y2="1036.9" stroke="#000" stroke-width="1.8"/>
<text x="290.75" y="1034.8" dominant-baseline="central" font-size="10.3" text-anchor="middle" fill="#000" textLength="15.2" lengthAdjust="spacingAndGlyphs" stroke="#000" stroke-width="0.2">981</text>
<text x="359.9" y="1034.8" dominant-baseline="central" font-size="10.3" text-anchor="middle" fill="#000" textLength="15.2" lengthAdjust="spacingAndGlyphs" stroke="#000" stroke-width="0.2">981</text>
<text x="429.7" y="1034.8" dominant-baseline="central" font-size="10.3" text-anchor="middle" fill="#000" textLength="19.2" lengthAdjust="spacingAndGlyphs" stroke="#000" stroke-width="0.2">1000</text>
<text x="500.25" y="1034.8" dominant-baseline="central" font-size="10.3" text-anchor="middle" fill="#000" textLength="19.2" lengthAdjust="spacingAndGlyphs" stroke="#000" stroke-width="0.2">1000</text>
<text x="570.8" y="1034.8" dominant-baseline="central" font-size="10.3" text-anchor="middle" fill="#000" textLength="15.2" lengthAdjust="spacingAndGlyphs" stroke="#000" stroke-width="0.2">999</text>
<text x="641.4" y="1034.8" dominant-baseline="central" font-size="10.3" text-anchor="middle" fill="#000" textLength="19.2" lengthAdjust="spacingAndGlyphs" stroke="#000" stroke-width="0.2">1000</text>
<text x="711.85" y="1034.8" dominant-baseline="central" font-size="10.3" text-anchor="middle" fill="#000" textLength="19.2" lengthAdjust="spacingAndGlyphs" stroke="#000" stroke-width="0.2">1000</text>
<text x="782.45" y="1034.8" dominant-baseline="central" font-size="10.3" text-anchor="middle" fill="#000" textLength="19.2" lengthAdjust="spacingAndGlyphs" stroke="#000" stroke-width="0.2">1000</text>
<text x="852.5" y="1034.8" dominant-baseline="central" font-size="10.3" text-anchor="middle" fill="#000" textLength="15.2" lengthAdjust="spacingAndGlyphs" stroke="#000" stroke-width="0.2">981</text>
<text x="921.7" y="1034.8" dominant-baseline="central" font-size="10.3" text-anchor="middle" fill="#000" textLength="15.2" lengthAdjust="spacingAndGlyphs" stroke="#000" stroke-width="0.2">981</text>
<line x1="169.9" y1="1062.5" x2="1041.7" y2="1062.5" stroke="#000" stroke-width="1.1"/>
<line x1="175.5" y1="1013" x2="175.5" y2="1067.2" stroke="#000" stroke-width="1.1"/>
<line x1="1036.5" y1="1013" x2="1036.5" y2="1067.2" stroke="#000" stroke-width="1.1"/>
<line x1="173.4" y1="1065.1" x2="178.6" y2="1059.9" stroke="#000" stroke-width="1.8"/>
<line x1="236.7" y1="1065.1" x2="241.9" y2="1059.9" stroke="#000" stroke-width="1.8"/>
<line x1="391.7" y1="1065.1" x2="396.9" y2="1059.9" stroke="#000" stroke-width="1.8"/>
<line x1="603.6" y1="1065.1" x2="608.8" y2="1059.9" stroke="#000" stroke-width="1.8"/>
<line x1="815.2" y1="1065.1" x2="820.4" y2="1059.9" stroke="#000" stroke-width="1.8"/>
<line x1="970.7" y1="1065.1" x2="975.9" y2="1059.9" stroke="#000" stroke-width="1.8"/>
<line x1="1033.6" y1="1065.1" x2="1038.8" y2="1059.9" stroke="#000" stroke-width="1.8"/>
<text x="207.6" y="1057.9" dominant-baseline="central" font-size="10.3" text-anchor="middle" fill="#000" textLength="19.5" lengthAdjust="spacingAndGlyphs" stroke="#000" stroke-width="0.2">900*</text>
<text x="316.8" y="1057.9" dominant-baseline="central" font-size="10.3" text-anchor="middle" fill="#000" textLength="20.2" lengthAdjust="spacingAndGlyphs" stroke="#000" stroke-width="0.2">2200</text>
<text x="500.2" y="1057.9" dominant-baseline="central" font-size="10.3" text-anchor="middle" fill="#000" textLength="20.2" lengthAdjust="spacingAndGlyphs" stroke="#000" stroke-width="0.2">3000</text>
<text x="711.9" y="1057.9" dominant-baseline="central" font-size="10.3" text-anchor="middle" fill="#000" textLength="20.2" lengthAdjust="spacingAndGlyphs" stroke="#000" stroke-width="0.2">3000</text>
<text x="895.5" y="1057.9" dominant-baseline="central" font-size="10.3" text-anchor="middle" fill="#000" textLength="20.2" lengthAdjust="spacingAndGlyphs" stroke="#000" stroke-width="0.2">2200</text>
<text x="1004.8" y="1057.9" dominant-baseline="central" font-size="10.3" text-anchor="middle" fill="#000" textLength="19.5" lengthAdjust="spacingAndGlyphs" stroke="#000" stroke-width="0.2">898*</text>
<line x1="667" y1="642.5" x2="687.7" y2="642.5" stroke="#000" stroke-width="3"/>
<line x1="687.7" y1="642.5" x2="723.4" y2="642.5" stroke="#444" stroke-width="1"/>
<text x="717.5" y="635.2" dominant-baseline="central" font-size="11" text-anchor="middle" fill="#333">1</text>
<line x1="232.8" y1="782.3" x2="232.8" y2="803.4" stroke="#000" stroke-width="3"/>
<line x1="232.8" y1="760.2" x2="232.8" y2="782.3" stroke="#444" stroke-width="1"/>
<line x1="232.8" y1="760.2" x2="246.7" y2="760.2" stroke="#444" stroke-width="1"/>
<text x="240.8" y="752.6" dominant-baseline="central" font-size="11" text-anchor="middle" fill="#333">1</text>
<line x1="696.7" y1="781.4" x2="696.7" y2="802.3" stroke="#000" stroke-width="3"/>
<line x1="696.7" y1="759.1" x2="696.7" y2="781.4" stroke="#444" stroke-width="1"/>
<line x1="696.7" y1="759.1" x2="713" y2="759.1" stroke="#444" stroke-width="1"/>
<text x="705" y="751.2" dominant-baseline="central" font-size="11" text-anchor="middle" fill="#333">3</text>
<line x1="963.5" y1="850.7" x2="963.5" y2="871.3" stroke="#000" stroke-width="3"/>
<line x1="963.5" y1="828.4" x2="963.5" y2="850.7" stroke="#444" stroke-width="1"/>
<line x1="963.5" y1="828.4" x2="977.7" y2="828.4" stroke="#444" stroke-width="1"/>
<text x="972" y="820.6" dominant-baseline="central" font-size="11" text-anchor="middle" fill="#333">1</text>
<line x1="258.7" y1="917.4" x2="279.5" y2="917.4" stroke="#000" stroke-width="3"/>
<line x1="279.5" y1="917.4" x2="317.9" y2="917.4" stroke="#444" stroke-width="1"/>
<text x="309.6" y="909.6" dominant-baseline="central" font-size="11" text-anchor="middle" fill="#333">2</text>
<line x1="524.8" y1="949.4" x2="545.7" y2="949.4" stroke="#000" stroke-width="3"/>
<line x1="545.7" y1="949.4" x2="582.2" y2="949.4" stroke="#444" stroke-width="1"/>
<text x="575.6" y="941.4" dominant-baseline="central" font-size="11" text-anchor="middle" fill="#333">1</text>
<line x1="700.6" y1="995" x2="700.6" y2="1016.5" stroke="#000" stroke-width="3"/>
<line x1="700.6" y1="973.5" x2="700.6" y2="995" stroke="#444" stroke-width="1"/>
<line x1="700.6" y1="973.5" x2="717.8" y2="973.5" stroke="#444" stroke-width="1"/>
<text x="708.6" y="965.6" dominant-baseline="central" font-size="11" text-anchor="middle" fill="#333">4</text>
<line x1="573.3" y1="712.4" x2="573.3" y2="685" stroke="#000" stroke-width="1"/>
<path d="M571.2,687 L573.3,677.3 L575.4,687 Z" stroke="#000" stroke-width="0.5" fill="#000"/>
<line x1="573.5" y1="874" x2="573.5" y2="901" stroke="#000" stroke-width="1"/>
<path d="M571.4,899.5 L573.5,909.9 L575.6,899.5 Z" stroke="#000" stroke-width="0.5" fill="#000"/>
<line x1="249.9" y1="892.4" x2="237" y2="892.4" stroke="#000" stroke-width="1"/>
<path d="M238.5,890.4 L228,892.4 L238.5,894.4 Z" stroke="#000" stroke-width="0.5" fill="#000"/>
<line x1="926.6" y1="758.5" x2="940" y2="758.5" stroke="#000" stroke-width="1"/>
<path d="M939,756.5 L950.4,758.5 L939,760.5 Z" stroke="#000" stroke-width="0.5" fill="#000"/>
<line x1="645.6" y1="512" x2="645.6" y2="541.5" stroke="#000" stroke-width="3"/>
<line x1="622" y1="521.4" x2="636" y2="521.4" stroke="#000" stroke-width="1"/>
<path d="M635.5,519.3 L644,521.4 L635.5,523.6 Z" stroke="#000" stroke-width="0.5" fill="#000"/>
<text x="629.5" y="513.4" dominant-baseline="central" font-size="11" text-anchor="middle" fill="#222">1</text>
<line x1="645.4" y1="1096.2" x2="645.4" y2="1125.5" stroke="#000" stroke-width="3"/>
<line x1="622.3" y1="1116.3" x2="636" y2="1116.3" stroke="#000" stroke-width="1"/>
<path d="M635.5,1114.2 L644,1116.3 L635.5,1118.4 Z" stroke="#000" stroke-width="0.5" fill="#000"/>
<text x="629.5" y="1126" dominant-baseline="central" font-size="11" text-anchor="middle" fill="#222">1</text>
<line x1="60.8" y1="793.5" x2="89.8" y2="793.5" stroke="#000" stroke-width="3"/>
<line x1="69.8" y1="821.2" x2="69.8" y2="804" stroke="#000" stroke-width="1"/>
<path d="M67.8,805 L69.8,796 L71.8,805 Z" stroke="#000" stroke-width="0.5" fill="#000"/>
<text x="63.2" y="812.4" dominant-baseline="central" font-size="11" text-anchor="middle" fill="#222">2</text>
<line x1="1061" y1="793.3" x2="1090.2" y2="793.3" stroke="#000" stroke-width="3"/>
<line x1="1081.3" y1="821.6" x2="1081.3" y2="804" stroke="#000" stroke-width="1"/>
<path d="M1079.3,805 L1081.3,796.3 L1083.3,805 Z" stroke="#000" stroke-width="0.5" fill="#000"/>
<text x="1087.5" y="812" dominant-baseline="central" font-size="11" text-anchor="middle" fill="#222">2</text>
<text x="1262" y="633.4" dominant-baseline="central" font-size="17.5" text-anchor="middle" fill="#111" textLength="132" lengthAdjust="spacingAndGlyphs" font-style="italic" stroke="#fff" stroke-width="0.3">Аксонометрия</text>
<path d="M1362.29,942.47 L1373.41,936.03 L1383.67,941.98 L1372.55,948.43 Z" stroke="#000" stroke-width="1.3" fill="#fff"/>
<path d="M1368.49,939.83 L1373.16,937.12 L1377.47,939.62 L1372.8,942.33 Z" stroke="#000" stroke-width="1.2" fill="#333"/>
<path d="M1320.63,892.41 L1324.72,892.39 L1328.27,892.69 L1331.43,893.21 L1334.28,893.91 L1336.87,894.76 L1339.25,895.74 L1341.44,896.82 L1343.47,898 L1345.36,899.26 L1347.11,900.6 L1348.75,902.01 L1350.28,903.48 L1351.71,905 L1353.04,906.59 L1354.29,908.22 L1355.45,909.9 L1356.53,911.63 L1357.54,913.4 L1358.48,915.21 L1359.35,917.06 L1360.15,918.95 L1360.89,920.88 L1361.57,922.84 L1362.18,924.84 L1362.74,926.87 L1363.24,928.93 L1363.69,931.03 L1364.08,933.16 L1364.41,935.32 L1364.69,937.52" stroke="#000" stroke-width="1.1" fill="none"/>
<path d="M1415.07,837.63 L1410.98,842.36 L1407.43,846.78 L1404.27,850.96 L1401.42,854.97 L1398.83,858.83 L1396.45,862.57 L1394.26,866.19 L1392.23,869.73 L1390.34,873.17 L1388.59,876.55 L1386.95,879.85 L1385.42,883.1 L1383.99,886.28 L1382.66,889.41 L1381.41,892.49 L1380.25,895.52 L1379.17,898.5 L1378.16,901.44 L1377.22,904.34 L1376.35,907.2 L1375.55,910.02 L1374.81,912.8 L1374.13,915.55 L1373.52,918.27 L1372.96,920.95 L1372.46,923.59 L1372.01,926.2 L1371.62,928.79 L1371.29,931.34 L1371.01,933.85" stroke="#000" stroke-width="1.1" fill="none"/>
<path d="M1328.83,897.17 L1332.92,897.15 L1336.48,897.45 L1339.64,897.97 L1342.49,898.67 L1345.08,899.53 L1347.46,900.5 L1349.65,901.59 L1351.68,902.76 L1353.57,904.03 L1355.32,905.36 L1356.96,906.77 L1358.49,908.24 L1359.92,909.76 L1361.25,911.35 L1362.49,912.98 L1363.66,914.66 L1364.74,916.39 L1365.75,918.16 L1366.69,919.97 L1367.56,921.82 L1368.36,923.71 L1369.1,925.64 L1369.78,927.6 L1370.39,929.6 L1370.95,931.63 L1371.45,933.7 L1371.89,935.79 L1372.28,937.92 L1372.62,940.09 L1372.9,942.28" stroke="#000" stroke-width="1.2" fill="none"/>
<path d="M1340.6,890.35 L1342.85,890.93 L1344.96,891.58 L1346.95,892.31 L1348.84,893.1 L1350.62,893.95 L1352.32,894.85 L1353.93,895.79 L1355.46,896.79 L1356.93,897.82 L1358.32,898.9 L1359.65,900.01 L1360.93,901.15 L1362.14,902.33 L1363.3,903.54 L1364.41,904.78 L1365.48,906.04 L1366.49,907.34 L1367.46,908.66 L1368.39,910 L1369.27,911.37 L1370.11,912.77 L1370.92,914.18 L1371.68,915.62 L1372.41,917.08 L1373.11,918.56 L1373.76,920.06 L1374.39,921.59 L1374.98,923.13 L1375.53,924.69 L1376.06,926.27" stroke="#000" stroke-width="1.2" fill="none"/>
<path d="M1423.28,842.39 L1419.19,847.12 L1415.63,851.54 L1412.48,855.73 L1409.63,859.73 L1407.04,863.59 L1404.66,867.33 L1402.46,870.95 L1400.43,874.49 L1398.55,877.94 L1396.79,881.31 L1395.16,884.62 L1393.63,887.86 L1392.2,891.04 L1390.87,894.17 L1389.62,897.25 L1388.46,900.28 L1387.37,903.26 L1386.36,906.2 L1385.43,909.1 L1384.56,911.96 L1383.75,914.78 L1383.02,917.57 L1382.34,920.31 L1381.72,923.03 L1381.16,925.71 L1380.66,928.35 L1380.22,930.97 L1379.83,933.55 L1379.5,936.1 L1379.21,938.62" stroke="#000" stroke-width="1.2" fill="none"/>
<path d="M1411.52,849.21 L1409.27,852.4 L1407.15,855.51 L1405.16,858.55 L1403.28,861.53 L1401.49,864.44 L1399.8,867.31 L1398.18,870.13 L1396.65,872.9 L1395.19,875.63 L1393.79,878.32 L1392.46,880.98 L1391.19,883.6 L1389.97,886.19 L1388.81,888.74 L1387.7,891.27 L1386.64,893.77 L1385.62,896.24 L1384.65,898.69 L1383.73,901.11 L1382.84,903.5 L1382,905.87 L1381.2,908.22 L1380.43,910.55 L1379.7,912.86 L1379.01,915.14 L1378.35,917.4 L1377.73,919.65 L1377.14,921.87 L1376.58,924.08 L1376.06,926.27" stroke="#000" stroke-width="1.2" fill="none"/>
<line x1="1375.37" y1="925.87" x2="1375.37" y2="937.98" stroke="#000" stroke-width="1.1"/>
<path d="M1511.48,855.95 L1522.6,849.5 L1532.86,855.45 L1521.74,861.9 Z" stroke="#000" stroke-width="1.3" fill="#fff"/>
<path d="M1517.68,853.3 L1522.35,850.59 L1526.66,853.09 L1521.99,855.8 Z" stroke="#000" stroke-width="1.2" fill="#333"/>
<path d="M1469.82,805.88 L1473.91,805.86 L1477.46,806.16 L1480.62,806.68 L1483.47,807.38 L1486.06,808.24 L1488.44,809.21 L1490.63,810.3 L1492.66,811.47 L1494.55,812.74 L1496.31,814.07 L1497.94,815.48 L1499.47,816.95 L1500.9,818.47 L1502.23,820.06 L1503.48,821.69 L1504.64,823.37 L1505.73,825.1 L1506.74,826.87 L1507.67,828.68 L1508.54,830.53 L1509.34,832.42 L1510.08,834.35 L1510.76,836.31 L1511.38,838.31 L1511.93,840.34 L1512.43,842.41 L1512.88,844.5 L1513.27,846.63 L1513.6,848.79 L1513.88,850.99" stroke="#000" stroke-width="1.1" fill="none"/>
<path d="M1564.27,751.1 L1560.17,755.83 L1556.62,760.25 L1553.46,764.44 L1550.61,768.44 L1548.02,772.3 L1545.64,776.04 L1543.45,779.66 L1541.42,783.2 L1539.53,786.65 L1537.78,790.02 L1536.14,793.32 L1534.61,796.57 L1533.18,799.75 L1531.85,802.88 L1530.6,805.96 L1529.44,808.99 L1528.36,811.97 L1527.35,814.91 L1526.41,817.81 L1525.54,820.67 L1524.74,823.49 L1524,826.28 L1523.32,829.02 L1522.71,831.74 L1522.15,834.42 L1521.65,837.06 L1521.2,839.68 L1520.81,842.26 L1520.48,844.81 L1520.2,847.32" stroke="#000" stroke-width="1.1" fill="none"/>
<path d="M1478.03,810.64 L1482.12,810.62 L1485.67,810.92 L1488.83,811.44 L1491.68,812.14 L1494.27,813 L1496.65,813.97 L1498.84,815.06 L1500.87,816.23 L1502.76,817.5 L1504.51,818.83 L1506.15,820.24 L1507.68,821.71 L1509.11,823.24 L1510.44,824.82 L1511.69,826.45 L1512.85,828.13 L1513.93,829.86 L1514.94,831.63 L1515.88,833.44 L1516.75,835.29 L1517.55,837.18 L1518.29,839.11 L1518.97,841.07 L1519.58,843.07 L1520.14,845.1 L1520.64,847.17 L1521.09,849.26 L1521.48,851.39 L1521.81,853.56 L1522.09,855.75" stroke="#000" stroke-width="1.2" fill="none"/>
<path d="M1489.79,803.82 L1492.04,804.4 L1494.15,805.05 L1496.14,805.78 L1498.03,806.57 L1499.81,807.42 L1501.51,808.32 L1503.12,809.27 L1504.66,810.26 L1506.12,811.29 L1507.51,812.37 L1508.85,813.48 L1510.12,814.62 L1511.33,815.8 L1512.5,817.01 L1513.61,818.25 L1514.67,819.51 L1515.68,820.81 L1516.65,822.13 L1517.58,823.47 L1518.46,824.84 L1519.31,826.24 L1520.11,827.65 L1520.88,829.09 L1521.61,830.55 L1522.3,832.03 L1522.96,833.54 L1523.58,835.06 L1524.17,836.6 L1524.72,838.16 L1525.25,839.74" stroke="#000" stroke-width="1.2" fill="none"/>
<path d="M1572.47,755.86 L1568.38,760.59 L1564.83,765.01 L1561.67,769.2 L1558.82,773.2 L1556.23,777.06 L1553.85,780.8 L1551.66,784.42 L1549.63,787.96 L1547.74,791.41 L1545.98,794.78 L1544.35,798.09 L1542.82,801.33 L1541.39,804.51 L1540.06,807.64 L1538.81,810.72 L1537.65,813.75 L1536.56,816.73 L1535.56,819.67 L1534.62,822.57 L1533.75,825.43 L1532.95,828.25 L1532.21,831.04 L1531.53,833.79 L1530.91,836.5 L1530.36,839.18 L1529.86,841.82 L1529.41,844.44 L1529.02,847.02 L1528.69,849.57 L1528.41,852.09" stroke="#000" stroke-width="1.2" fill="none"/>
<path d="M1560.71,762.68 L1558.46,765.87 L1556.35,768.98 L1554.35,772.02 L1552.47,775 L1550.68,777.91 L1548.99,780.78 L1547.38,783.6 L1545.84,786.37 L1544.38,789.1 L1542.98,791.79 L1541.65,794.45 L1540.38,797.07 L1539.16,799.66 L1538,802.22 L1536.89,804.74 L1535.83,807.24 L1534.81,809.71 L1533.84,812.16 L1532.92,814.58 L1532.03,816.97 L1531.19,819.35 L1530.39,821.69 L1529.62,824.02 L1528.89,826.33 L1528.2,828.61 L1527.54,830.88 L1526.92,833.12 L1526.33,835.34 L1525.77,837.55 L1525.25,839.74" stroke="#000" stroke-width="1.2" fill="none"/>
<line x1="1524.56" y1="839.34" x2="1524.56" y2="851.45" stroke="#000" stroke-width="1.1"/>
<path d="M1437.63,898.78 L1448.75,892.33 L1459.01,898.28 L1447.89,904.73 Z" stroke="#000" stroke-width="1.3" fill="#fff"/>
<path d="M1443.83,896.13 L1448.5,893.43 L1452.81,895.93 L1448.14,898.63 Z" stroke="#000" stroke-width="1.2" fill="#333"/>
<path d="M1442.82,848.53 L1442.82,871.53 L1441.32,875.53 L1441.32,892.53" stroke="#000" stroke-width="1.2" fill="none"/>
<line x1="1445.92" y1="846.53" x2="1445.92" y2="892.53" stroke="#666" stroke-width="1"/>
<path d="M1450.32,844.53 L1450.32,874.53 L1449.32,876.53 L1449.32,892.53" stroke="#000" stroke-width="1.2" fill="none"/>
<line x1="1452.32" y1="848.53" x2="1452.32" y2="892.53" stroke="#000" stroke-width="1"/>
<line x1="1455.72" y1="848.53" x2="1455.72" y2="892.53" stroke="#000" stroke-width="1.2"/>
<line x1="1452.32" y1="858.53" x2="1455.72" y2="858.53" stroke="#000" stroke-width="0.8"/>
<line x1="1452.32" y1="868.53" x2="1455.72" y2="868.53" stroke="#000" stroke-width="0.8"/>
<line x1="1452.32" y1="878.53" x2="1455.72" y2="878.53" stroke="#000" stroke-width="0.8"/>
<path d="M1452.32,848.53 L1470.32,832.53 L1471.32,836.53 L1455.72,852.53" stroke="#000" stroke-width="1.2" fill="none"/>
<path d="M1442.82,848.53 L1443.32,844.53 L1447.32,850.53" stroke="#000" stroke-width="1" fill="none"/>
<path d="M1168.9,826.6 L1467.7,653.3 L1616.8,739.8 L1622.9,743.3 L1318,919.7 L1163.8,829.6 Z" stroke="#000" stroke-width="0" fill="#fff"/>
<line x1="1168.9" y1="826.6" x2="1467.7" y2="653.3" stroke="#000" stroke-width="1.3"/>
<line x1="1467.7" y1="653.3" x2="1616.8" y2="739.8" stroke="#000" stroke-width="1.3"/>
<line x1="1168.9" y1="826.6" x2="1318" y2="913.1" stroke="#000" stroke-width="1.4"/>
<line x1="1318" y1="913.1" x2="1616.8" y2="739.8" stroke="#000" stroke-width="1.4"/>
<line x1="1163.8" y1="829.6" x2="1318" y2="919.7" stroke="#000" stroke-width="2"/>
<line x1="1318" y1="919.7" x2="1622.9" y2="743.3" stroke="#000" stroke-width="2"/>
<line x1="1318" y1="913.1" x2="1318" y2="919.7" stroke="#000" stroke-width="1.2"/>
<path d="M1168.9,826.6 L1165.9,824.1 L1163.8,829.6 L1165.8,831.6" stroke="#000" stroke-width="1.2" fill="none"/>
<path d="M1616.8,739.8 L1620.8,738.3 L1622.9,743.3 L1617.8,744.8" stroke="#000" stroke-width="1.2" fill="none"/>
<line x1="1168.9" y1="826.6" x2="1319.17" y2="802.93" stroke="#000" stroke-width="2.6"/>
<line x1="1318" y1="913.1" x2="1319.17" y2="802.93" stroke="#000" stroke-width="2.6"/>
<line x1="1467.7" y1="653.3" x2="1466.53" y2="717.47" stroke="#000" stroke-width="2.6"/>
<line x1="1616.8" y1="739.8" x2="1466.53" y2="717.47" stroke="#000" stroke-width="2.6"/>
<line x1="1319.17" y1="802.93" x2="1466.53" y2="717.47" stroke="#000" stroke-width="3"/>
<line x1="1196.69" y1="810.48" x2="1224.05" y2="817.91" stroke="#000" stroke-width="2.3"/>
<line x1="1196.69" y1="810.48" x2="1224.05" y2="817.91" stroke="#aaa" stroke-width="0.6"/>
<line x1="1345.79" y1="896.98" x2="1318.43" y2="872.67" stroke="#000" stroke-width="2.3"/>
<line x1="1345.79" y1="896.98" x2="1318.43" y2="872.67" stroke="#aaa" stroke-width="0.6"/>
<line x1="1220.83" y1="796.48" x2="1271.96" y2="810.37" stroke="#000" stroke-width="2.3"/>
<line x1="1220.83" y1="796.48" x2="1271.96" y2="810.37" stroke="#aaa" stroke-width="0.6"/>
<line x1="1369.93" y1="882.98" x2="1318.81" y2="837.55" stroke="#000" stroke-width="2.3"/>
<line x1="1369.93" y1="882.98" x2="1318.81" y2="837.55" stroke="#aaa" stroke-width="0.6"/>
<line x1="1244.73" y1="782.62" x2="1319.28" y2="802.87" stroke="#000" stroke-width="2.3"/>
<line x1="1244.73" y1="782.62" x2="1319.28" y2="802.87" stroke="#aaa" stroke-width="0.6"/>
<line x1="1393.83" y1="869.12" x2="1319.28" y2="802.87" stroke="#000" stroke-width="2.3"/>
<line x1="1393.83" y1="869.12" x2="1319.28" y2="802.87" stroke="#aaa" stroke-width="0.6"/>
<line x1="1269.32" y1="768.36" x2="1343.87" y2="788.61" stroke="#000" stroke-width="2.3"/>
<line x1="1269.32" y1="768.36" x2="1343.87" y2="788.61" stroke="#aaa" stroke-width="0.6"/>
<line x1="1418.42" y1="854.86" x2="1343.87" y2="788.61" stroke="#000" stroke-width="2.3"/>
<line x1="1418.42" y1="854.86" x2="1343.87" y2="788.61" stroke="#aaa" stroke-width="0.6"/>
<line x1="1293.74" y1="754.19" x2="1368.29" y2="774.44" stroke="#000" stroke-width="2.3"/>
<line x1="1293.74" y1="754.19" x2="1368.29" y2="774.44" stroke="#aaa" stroke-width="0.6"/>
<line x1="1442.84" y1="840.69" x2="1368.29" y2="774.44" stroke="#000" stroke-width="2.3"/>
<line x1="1442.84" y1="840.69" x2="1368.29" y2="774.44" stroke="#aaa" stroke-width="0.6"/>
<line x1="1318.33" y1="739.93" x2="1392.88" y2="760.18" stroke="#000" stroke-width="2.3"/>
<line x1="1318.33" y1="739.93" x2="1392.88" y2="760.18" stroke="#aaa" stroke-width="0.6"/>
<line x1="1467.43" y1="826.43" x2="1392.88" y2="760.18" stroke="#000" stroke-width="2.3"/>
<line x1="1467.43" y1="826.43" x2="1392.88" y2="760.18" stroke="#aaa" stroke-width="0.6"/>
<line x1="1342.79" y1="725.75" x2="1417.34" y2="746" stroke="#000" stroke-width="2.3"/>
<line x1="1342.79" y1="725.75" x2="1417.34" y2="746" stroke="#aaa" stroke-width="0.6"/>
<line x1="1491.89" y1="812.25" x2="1417.34" y2="746" stroke="#000" stroke-width="2.3"/>
<line x1="1491.89" y1="812.25" x2="1417.34" y2="746" stroke="#aaa" stroke-width="0.6"/>
<line x1="1367.28" y1="711.54" x2="1441.83" y2="731.79" stroke="#000" stroke-width="2.3"/>
<line x1="1367.28" y1="711.54" x2="1441.83" y2="731.79" stroke="#aaa" stroke-width="0.6"/>
<line x1="1516.38" y1="798.04" x2="1441.83" y2="731.79" stroke="#000" stroke-width="2.3"/>
<line x1="1516.38" y1="798.04" x2="1441.83" y2="731.79" stroke="#aaa" stroke-width="0.6"/>
<line x1="1391.84" y1="697.3" x2="1466.39" y2="717.55" stroke="#000" stroke-width="2.3"/>
<line x1="1391.84" y1="697.3" x2="1466.39" y2="717.55" stroke="#aaa" stroke-width="0.6"/>
<line x1="1540.94" y1="783.8" x2="1466.39" y2="717.55" stroke="#000" stroke-width="2.3"/>
<line x1="1540.94" y1="783.8" x2="1466.39" y2="717.55" stroke="#aaa" stroke-width="0.6"/>
<line x1="1415.94" y1="683.32" x2="1466.9" y2="697.16" stroke="#000" stroke-width="2.3"/>
<line x1="1415.94" y1="683.32" x2="1466.9" y2="697.16" stroke="#aaa" stroke-width="0.6"/>
<line x1="1565.04" y1="769.82" x2="1514.09" y2="724.54" stroke="#000" stroke-width="2.3"/>
<line x1="1565.04" y1="769.82" x2="1514.09" y2="724.54" stroke="#aaa" stroke-width="0.6"/>
<line x1="1439.91" y1="669.42" x2="1467.27" y2="676.85" stroke="#000" stroke-width="2.3"/>
<line x1="1439.91" y1="669.42" x2="1467.27" y2="676.85" stroke="#aaa" stroke-width="0.6"/>
<line x1="1589.01" y1="755.92" x2="1561.65" y2="731.61" stroke="#000" stroke-width="2.3"/>
<line x1="1589.01" y1="755.92" x2="1561.65" y2="731.61" stroke="#aaa" stroke-width="0.6"/>
<line x1="1195.98" y1="842.31" x2="1223.5" y2="818" stroke="#000" stroke-width="2.3"/>
<line x1="1195.98" y1="842.31" x2="1223.5" y2="818" stroke="#aaa" stroke-width="0.6"/>
<line x1="1494.78" y1="669.01" x2="1467.27" y2="676.61" stroke="#000" stroke-width="2.3"/>
<line x1="1494.78" y1="669.01" x2="1467.27" y2="676.61" stroke="#aaa" stroke-width="0.6"/>
<line x1="1219.85" y1="856.16" x2="1271.61" y2="810.42" stroke="#000" stroke-width="2.3"/>
<line x1="1219.85" y1="856.16" x2="1271.61" y2="810.42" stroke="#aaa" stroke-width="0.6"/>
<line x1="1518.65" y1="682.86" x2="1466.9" y2="697.16" stroke="#000" stroke-width="2.3"/>
<line x1="1518.65" y1="682.86" x2="1466.9" y2="697.16" stroke="#aaa" stroke-width="0.6"/>
<line x1="1243.55" y1="869.91" x2="1319.17" y2="803.08" stroke="#000" stroke-width="2.3"/>
<line x1="1243.55" y1="869.91" x2="1319.17" y2="803.08" stroke="#aaa" stroke-width="0.6"/>
<line x1="1542.35" y1="696.61" x2="1466.73" y2="717.5" stroke="#000" stroke-width="2.3"/>
<line x1="1542.35" y1="696.61" x2="1466.73" y2="717.5" stroke="#aaa" stroke-width="0.6"/>
<line x1="1267.11" y1="883.58" x2="1318.8" y2="837.9" stroke="#000" stroke-width="2.3"/>
<line x1="1267.11" y1="883.58" x2="1318.8" y2="837.9" stroke="#aaa" stroke-width="0.6"/>
<line x1="1565.91" y1="710.28" x2="1514.23" y2="724.56" stroke="#000" stroke-width="2.3"/>
<line x1="1565.91" y1="710.28" x2="1514.23" y2="724.56" stroke="#aaa" stroke-width="0.6"/>
<line x1="1290.85" y1="897.35" x2="1318.43" y2="872.97" stroke="#000" stroke-width="2.3"/>
<line x1="1290.85" y1="897.35" x2="1318.43" y2="872.97" stroke="#aaa" stroke-width="0.6"/>
<line x1="1589.65" y1="724.05" x2="1562.07" y2="731.67" stroke="#000" stroke-width="2.3"/>
<line x1="1589.65" y1="724.05" x2="1562.07" y2="731.67" stroke="#aaa" stroke-width="0.6"/>
</svg></body></html>
